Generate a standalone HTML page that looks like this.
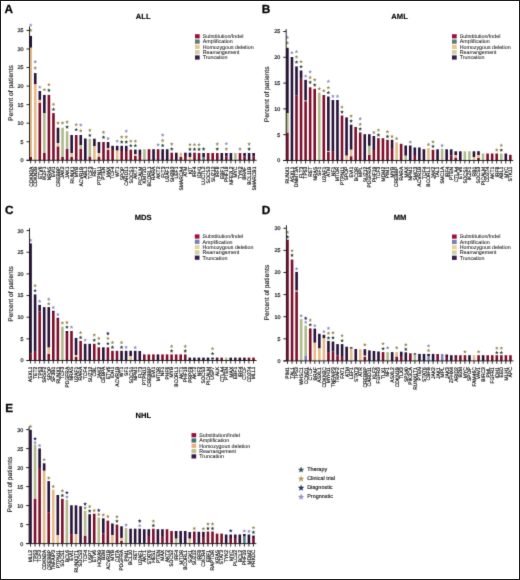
<!DOCTYPE html>
<html><head><meta charset="utf-8"><title>Figure</title>
<style>
html,body{margin:0;padding:0;background:#fff;}
body{width:520px;height:580px;overflow:hidden;}
svg{display:block;font-family:"Liberation Sans", sans-serif;text-rendering:geometricPrecision;}
#w{width:520px;height:580px;}
</style></head>
<body>
<div id="w">
<svg width="520" height="580" viewBox="0 0 520 580" shape-rendering="geometricPrecision">
<defs><filter id="bl" x="0" y="0" width="520" height="580" filterUnits="userSpaceOnUse" color-interpolation-filters="sRGB"><feConvolveMatrix order="3" kernelMatrix="0.01134 0.08382 0.01134 0.08382 0.61935 0.08382 0.01134 0.08382 0.01134" edgeMode="duplicate"/></filter></defs>
<g filter="url(#bl)">
<rect x="0" y="0" width="520" height="580" fill="#fff"/>
<text x="4.5" y="12.6" font-size="11.8" font-weight="bold" stroke="#000" stroke-width="0.25">A</text>
<text x="143.2" y="19.0" font-size="7.6" font-weight="bold" text-anchor="middle" stroke="#000" stroke-width="0.12">ALL</text>
<text transform="translate(12.50 93.00) rotate(-90)" font-size="6.7" text-anchor="middle" fill="#1a1a1a" stroke="#1a1a1a" stroke-width="0.15">Percent of patients</text>
<rect x="29.40" y="157.00" width="2.60" height="3.30" fill="#7c0e2b"/>
<rect x="29.40" y="47.60" width="2.60" height="109.40" fill="#e4ba88"/>
<rect x="29.40" y="35.90" width="2.60" height="11.70" fill="#271238"/>
<polygon points="30.70,28.25 31.22,29.59 32.65,29.67 31.54,30.57 31.90,31.96 30.70,31.18 29.50,31.96 29.86,30.57 28.75,29.67 30.18,29.59" fill="#a08c55"/>
<polygon points="30.70,23.05 31.22,24.39 32.65,24.47 31.54,25.37 31.90,26.76 30.70,25.98 29.50,26.76 29.86,25.37 28.75,24.47 30.18,24.39" fill="#8f8fc2"/>
<line x1="30.70" y1="160.30" x2="30.70" y2="163.30" stroke="#111" stroke-width="0.85"/>
<text transform="translate(32.55 166.60) rotate(-90) scale(0.955 1)" font-size="5.20" text-anchor="end" fill="#0a0a0a" stroke="#0a0a0a" stroke-width="0.17">CDKN2A</text>
<rect x="33.95" y="84.10" width="2.60" height="76.20" fill="#e4ba88"/>
<rect x="33.95" y="73.10" width="2.60" height="11.00" fill="#271238"/>
<polygon points="35.25,65.95 35.77,67.29 37.20,67.37 36.09,68.27 36.45,69.66 35.25,68.88 34.05,69.66 34.41,68.27 33.30,67.37 34.73,67.29" fill="#a08c55"/>
<polygon points="35.25,59.75 35.77,61.09 37.20,61.17 36.09,62.07 36.45,63.46 35.25,62.68 34.05,63.46 34.41,62.07 33.30,61.17 34.73,61.09" fill="#8f8fc2"/>
<line x1="35.25" y1="160.30" x2="35.25" y2="163.30" stroke="#111" stroke-width="0.85"/>
<text transform="translate(37.10 166.60) rotate(-90) scale(0.955 1)" font-size="5.20" text-anchor="end" fill="#0a0a0a" stroke="#0a0a0a" stroke-width="0.17">CDKN2B</text>
<rect x="38.50" y="102.70" width="2.60" height="57.60" fill="#7c0e2b"/>
<rect x="38.50" y="99.90" width="2.60" height="2.80" fill="#e4ba88"/>
<rect x="38.50" y="91.00" width="2.60" height="8.90" fill="#271238"/>
<polygon points="39.80,85.15 40.32,86.49 41.75,86.57 40.64,87.47 41.00,88.86 39.80,88.08 38.60,88.86 38.96,87.47 37.85,86.57 39.28,86.49" fill="#8f8fc2"/>
<line x1="39.80" y1="160.30" x2="39.80" y2="163.30" stroke="#111" stroke-width="0.85"/>
<text transform="translate(41.65 166.60) rotate(-90) scale(0.955 1)" font-size="5.20" text-anchor="end" fill="#0a0a0a" stroke="#0a0a0a" stroke-width="0.17">ETV6</text>
<rect x="43.05" y="153.00" width="2.60" height="7.30" fill="#7c0e2b"/>
<rect x="43.05" y="113.00" width="2.60" height="40.00" fill="#b0b98a"/>
<rect x="43.05" y="94.90" width="2.60" height="18.10" fill="#271238"/>
<polygon points="44.35,87.65 44.87,88.99 46.30,89.07 45.19,89.97 45.55,91.36 44.35,90.58 43.15,91.36 43.51,89.97 42.40,89.07 43.83,88.99" fill="#a08c55"/>
<line x1="44.35" y1="160.30" x2="44.35" y2="163.30" stroke="#111" stroke-width="0.85"/>
<text transform="translate(46.20 166.60) rotate(-90) scale(0.955 1)" font-size="5.20" text-anchor="end" fill="#0a0a0a" stroke="#0a0a0a" stroke-width="0.17">IKZF1</text>
<rect x="47.60" y="94.90" width="2.60" height="65.40" fill="#7c0e2b"/>
<polygon points="48.90,88.25 49.42,89.59 50.85,89.67 49.74,90.57 50.10,91.96 48.90,91.18 47.70,91.96 48.06,90.57 46.95,89.67 48.38,89.59" fill="#28483c"/>
<polygon points="48.90,82.55 49.42,83.89 50.85,83.97 49.74,84.87 50.10,86.26 48.90,85.48 47.70,86.26 48.06,84.87 46.95,83.97 48.38,83.89" fill="#a08c55"/>
<line x1="48.90" y1="160.30" x2="48.90" y2="163.30" stroke="#111" stroke-width="0.85"/>
<text transform="translate(50.75 166.60) rotate(-90) scale(0.955 1)" font-size="5.20" text-anchor="end" fill="#0a0a0a" stroke="#0a0a0a" stroke-width="0.17">NRAS</text>
<rect x="52.15" y="113.10" width="2.60" height="47.20" fill="#7c0e2b"/>
<polygon points="53.45,107.35 53.97,108.69 55.40,108.77 54.29,109.67 54.65,111.06 53.45,110.28 52.25,111.06 52.61,109.67 51.50,108.77 52.93,108.69" fill="#28483c"/>
<polygon points="53.45,102.35 53.97,103.69 55.40,103.77 54.29,104.67 54.65,106.06 53.45,105.28 52.25,106.06 52.61,104.67 51.50,103.77 52.93,103.69" fill="#a08c55"/>
<line x1="53.45" y1="160.30" x2="53.45" y2="163.30" stroke="#111" stroke-width="0.85"/>
<text transform="translate(55.30 166.60) rotate(-90) scale(0.955 1)" font-size="5.20" text-anchor="end" fill="#0a0a0a" stroke="#0a0a0a" stroke-width="0.17">EVI1</text>
<rect x="56.70" y="146.40" width="2.60" height="13.90" fill="#7c0e2b"/>
<rect x="56.70" y="143.00" width="2.60" height="3.40" fill="#e4ba88"/>
<rect x="56.70" y="127.70" width="2.60" height="15.30" fill="#271238"/>
<polygon points="58.00,120.95 58.52,122.29 59.95,122.37 58.84,123.27 59.20,124.66 58.00,123.88 56.80,124.66 57.16,123.27 56.05,122.37 57.48,122.29" fill="#a08c55"/>
<line x1="58.00" y1="160.30" x2="58.00" y2="163.30" stroke="#111" stroke-width="0.85"/>
<text transform="translate(59.85 166.60) rotate(-90) scale(0.955 1)" font-size="5.20" text-anchor="end" fill="#0a0a0a" stroke="#0a0a0a" stroke-width="0.17">CREBBP</text>
<rect x="61.25" y="157.00" width="2.60" height="3.30" fill="#7c0e2b"/>
<rect x="61.25" y="127.70" width="2.60" height="29.30" fill="#b0b98a"/>
<polygon points="62.55,120.95 63.07,122.29 64.50,122.37 63.39,123.27 63.75,124.66 62.55,123.88 61.35,124.66 61.71,123.27 60.60,122.37 62.03,122.29" fill="#a08c55"/>
<line x1="62.55" y1="160.30" x2="62.55" y2="163.30" stroke="#111" stroke-width="0.85"/>
<text transform="translate(64.40 166.60) rotate(-90) scale(0.955 1)" font-size="5.20" text-anchor="end" fill="#0a0a0a" stroke="#0a0a0a" stroke-width="0.17">JAK2</text>
<rect x="65.80" y="149.00" width="2.60" height="11.30" fill="#7c0e2b"/>
<rect x="65.80" y="131.20" width="2.60" height="17.80" fill="#b0b98a"/>
<polygon points="67.10,124.95 67.62,126.29 69.05,126.37 67.94,127.27 68.30,128.66 67.10,127.88 65.90,128.66 66.26,127.27 65.15,126.37 66.58,126.29" fill="#28483c"/>
<polygon points="67.10,119.95 67.62,121.29 69.05,121.37 67.94,122.27 68.30,123.66 67.10,122.88 65.90,123.66 66.26,122.27 65.15,121.37 66.58,121.29" fill="#a08c55"/>
<line x1="67.10" y1="160.30" x2="67.10" y2="163.30" stroke="#111" stroke-width="0.85"/>
<text transform="translate(68.95 166.60) rotate(-90) scale(0.955 1)" font-size="5.20" text-anchor="end" fill="#0a0a0a" stroke="#0a0a0a" stroke-width="0.17">JAK1</text>
<rect x="70.35" y="157.00" width="2.60" height="3.30" fill="#7c0e2b"/>
<rect x="70.35" y="153.00" width="2.60" height="4.00" fill="#e4ba88"/>
<rect x="70.35" y="135.00" width="2.60" height="18.00" fill="#271238"/>
<line x1="71.65" y1="160.30" x2="71.65" y2="163.30" stroke="#111" stroke-width="0.85"/>
<text transform="translate(73.50 166.60) rotate(-90) scale(0.955 1)" font-size="5.20" text-anchor="end" fill="#0a0a0a" stroke="#0a0a0a" stroke-width="0.17">RUNX1</text>
<rect x="74.90" y="135.00" width="2.60" height="25.30" fill="#7c0e2b"/>
<polygon points="76.20,127.55 76.72,128.89 78.15,128.97 77.04,129.87 77.40,131.26 76.20,130.48 75.00,131.26 75.36,129.87 74.25,128.97 75.68,128.89" fill="#28483c"/>
<polygon points="76.20,122.55 76.72,123.89 78.15,123.97 77.04,124.87 77.40,126.26 76.20,125.48 75.00,126.26 75.36,124.87 74.25,123.97 75.68,123.89" fill="#a08c55"/>
<line x1="76.20" y1="160.30" x2="76.20" y2="163.30" stroke="#111" stroke-width="0.85"/>
<text transform="translate(78.05 166.60) rotate(-90) scale(0.955 1)" font-size="5.20" text-anchor="end" fill="#0a0a0a" stroke="#0a0a0a" stroke-width="0.17">MYB</text>
<rect x="79.45" y="149.00" width="2.60" height="11.30" fill="#7c0e2b"/>
<rect x="79.45" y="145.00" width="2.60" height="4.00" fill="#b0b98a"/>
<rect x="79.45" y="135.00" width="2.60" height="10.00" fill="#271238"/>
<polygon points="80.75,128.75 81.27,130.09 82.70,130.17 81.59,131.07 81.95,132.46 80.75,131.68 79.55,132.46 79.91,131.07 78.80,130.17 80.23,130.09" fill="#a08c55"/>
<polygon points="80.75,122.95 81.27,124.29 82.70,124.37 81.59,125.27 81.95,126.66 80.75,125.88 79.55,126.66 79.91,125.27 78.80,124.37 80.23,124.29" fill="#8f8fc2"/>
<line x1="80.75" y1="160.30" x2="80.75" y2="163.30" stroke="#111" stroke-width="0.85"/>
<text transform="translate(82.60 166.60) rotate(-90) scale(0.955 1)" font-size="5.20" text-anchor="end" fill="#0a0a0a" stroke="#0a0a0a" stroke-width="0.17">ACVR1B</text>
<rect x="84.00" y="138.50" width="2.60" height="21.80" fill="#271238"/>
<line x1="85.30" y1="160.30" x2="85.30" y2="163.30" stroke="#111" stroke-width="0.85"/>
<text transform="translate(87.15 166.60) rotate(-90) scale(0.955 1)" font-size="5.20" text-anchor="end" fill="#0a0a0a" stroke="#0a0a0a" stroke-width="0.17">ABL1</text>
<rect x="88.55" y="156.50" width="2.60" height="3.80" fill="#7c0e2b"/>
<rect x="88.55" y="138.70" width="2.60" height="17.80" fill="#b0b98a"/>
<polygon points="89.85,133.35 90.37,134.69 91.80,134.77 90.69,135.67 91.05,137.06 89.85,136.28 88.65,137.06 89.01,135.67 87.90,134.77 89.33,134.69" fill="#28483c"/>
<polygon points="89.85,128.25 90.37,129.59 91.80,129.67 90.69,130.57 91.05,131.96 89.85,131.18 88.65,131.96 89.01,130.57 87.90,129.67 89.33,129.59" fill="#a08c55"/>
<line x1="89.85" y1="160.30" x2="89.85" y2="163.30" stroke="#111" stroke-width="0.85"/>
<text transform="translate(91.70 166.60) rotate(-90) scale(0.955 1)" font-size="5.20" text-anchor="end" fill="#0a0a0a" stroke="#0a0a0a" stroke-width="0.17">TCF3</text>
<rect x="93.10" y="146.00" width="2.60" height="14.30" fill="#e4ba88"/>
<rect x="93.10" y="138.70" width="2.60" height="7.30" fill="#271238"/>
<line x1="94.40" y1="160.30" x2="94.40" y2="163.30" stroke="#111" stroke-width="0.85"/>
<text transform="translate(96.25 166.60) rotate(-90) scale(0.955 1)" font-size="5.20" text-anchor="end" fill="#0a0a0a" stroke="#0a0a0a" stroke-width="0.17">RET</text>
<rect x="97.65" y="156.60" width="2.60" height="3.70" fill="#7c0e2b"/>
<rect x="97.65" y="153.00" width="2.60" height="3.60" fill="#e4ba88"/>
<rect x="97.65" y="142.00" width="2.60" height="11.00" fill="#271238"/>
<line x1="98.95" y1="160.30" x2="98.95" y2="163.30" stroke="#111" stroke-width="0.85"/>
<text transform="translate(100.80 166.60) rotate(-90) scale(0.955 1)" font-size="5.20" text-anchor="end" fill="#0a0a0a" stroke="#0a0a0a" stroke-width="0.17">PTPN11</text>
<rect x="102.20" y="142.00" width="2.60" height="18.30" fill="#7c0e2b"/>
<polygon points="103.50,135.25 104.02,136.59 105.45,136.67 104.34,137.57 104.70,138.96 103.50,138.18 102.30,138.96 102.66,137.57 101.55,136.67 102.98,136.59" fill="#28483c"/>
<polygon points="103.50,130.25 104.02,131.59 105.45,131.67 104.34,132.57 104.70,133.96 103.50,133.18 102.30,133.96 102.66,132.57 101.55,131.67 102.98,131.59" fill="#a08c55"/>
<line x1="103.50" y1="160.30" x2="103.50" y2="163.30" stroke="#111" stroke-width="0.85"/>
<text transform="translate(105.35 166.60) rotate(-90) scale(0.955 1)" font-size="5.20" text-anchor="end" fill="#0a0a0a" stroke="#0a0a0a" stroke-width="0.17">PTEN</text>
<rect x="106.75" y="150.00" width="2.60" height="10.30" fill="#7c0e2b"/>
<rect x="106.75" y="148.00" width="2.60" height="2.00" fill="#e4ba88"/>
<rect x="106.75" y="142.00" width="2.60" height="6.00" fill="#271238"/>
<polygon points="108.05,136.45 108.57,137.79 110.00,137.87 108.89,138.77 109.25,140.16 108.05,139.38 106.85,140.16 107.21,138.77 106.10,137.87 107.53,137.79" fill="#8f8fc2"/>
<line x1="108.05" y1="160.30" x2="108.05" y2="163.30" stroke="#111" stroke-width="0.85"/>
<text transform="translate(109.90 166.60) rotate(-90) scale(0.955 1)" font-size="5.20" text-anchor="end" fill="#0a0a0a" stroke="#0a0a0a" stroke-width="0.17">MAX</text>
<rect x="111.30" y="150.00" width="2.60" height="10.30" fill="#7c0e2b"/>
<rect x="111.30" y="145.80" width="2.60" height="4.20" fill="#271238"/>
<line x1="112.60" y1="160.30" x2="112.60" y2="163.30" stroke="#111" stroke-width="0.85"/>
<text transform="translate(114.45 166.60) rotate(-90) scale(0.955 1)" font-size="5.20" text-anchor="end" fill="#0a0a0a" stroke="#0a0a0a" stroke-width="0.17">TCF4</text>
<rect x="115.85" y="150.40" width="2.60" height="9.90" fill="#e4ba88"/>
<rect x="115.85" y="145.80" width="2.60" height="4.60" fill="#271238"/>
<polygon points="117.15,139.15 117.67,140.49 119.10,140.57 117.99,141.47 118.35,142.86 117.15,142.08 115.95,142.86 116.31,141.47 115.20,140.57 116.63,140.49" fill="#8f8fc2"/>
<line x1="117.15" y1="160.30" x2="117.15" y2="163.30" stroke="#111" stroke-width="0.85"/>
<text transform="translate(119.00 166.60) rotate(-90) scale(0.955 1)" font-size="5.20" text-anchor="end" fill="#0a0a0a" stroke="#0a0a0a" stroke-width="0.17">WT1</text>
<rect x="120.40" y="151.00" width="2.60" height="9.30" fill="#7c0e2b"/>
<rect x="120.40" y="145.80" width="2.60" height="5.20" fill="#271238"/>
<polygon points="121.70,139.95 122.22,141.29 123.65,141.37 122.54,142.27 122.90,143.66 121.70,142.88 120.50,143.66 120.86,142.27 119.75,141.37 121.18,141.29" fill="#28483c"/>
<polygon points="121.70,134.95 122.22,136.29 123.65,136.37 122.54,137.27 122.90,138.66 121.70,137.88 120.50,138.66 120.86,137.27 119.75,136.37 121.18,136.29" fill="#a08c55"/>
<line x1="121.70" y1="160.30" x2="121.70" y2="163.30" stroke="#111" stroke-width="0.85"/>
<text transform="translate(123.55 166.60) rotate(-90) scale(0.955 1)" font-size="5.20" text-anchor="end" fill="#0a0a0a" stroke="#0a0a0a" stroke-width="0.17">SPOP</text>
<rect x="124.95" y="151.00" width="2.60" height="9.30" fill="#7c0e2b"/>
<rect x="124.95" y="145.80" width="2.60" height="5.20" fill="#271238"/>
<polygon points="126.25,139.95 126.77,141.29 128.20,141.37 127.09,142.27 127.45,143.66 126.25,142.88 125.05,143.66 125.41,142.27 124.30,141.37 125.73,141.29" fill="#28483c"/>
<polygon points="126.25,134.95 126.77,136.29 128.20,136.37 127.09,137.27 127.45,138.66 126.25,137.88 125.05,138.66 125.41,137.27 124.30,136.37 125.73,136.29" fill="#a08c55"/>
<polygon points="126.25,129.15 126.77,130.49 128.20,130.57 127.09,131.47 127.45,132.86 126.25,132.08 125.05,132.86 125.41,131.47 124.30,130.57 125.73,130.49" fill="#8f8fc2"/>
<line x1="126.25" y1="160.30" x2="126.25" y2="163.30" stroke="#111" stroke-width="0.85"/>
<text transform="translate(128.10 166.60) rotate(-90) scale(0.955 1)" font-size="5.20" text-anchor="end" fill="#0a0a0a" stroke="#0a0a0a" stroke-width="0.17">CARD11</text>
<rect x="129.50" y="149.60" width="2.60" height="10.70" fill="#7c0e2b"/>
<polygon points="130.80,143.55 131.32,144.89 132.75,144.97 131.64,145.87 132.00,147.26 130.80,146.48 129.60,147.26 129.96,145.87 128.85,144.97 130.28,144.89" fill="#28483c"/>
<polygon points="130.80,139.15 131.32,140.49 132.75,140.57 131.64,141.47 132.00,142.86 130.80,142.08 129.60,142.86 129.96,141.47 128.85,140.57 130.28,140.49" fill="#a08c55"/>
<line x1="130.80" y1="160.30" x2="130.80" y2="163.30" stroke="#111" stroke-width="0.85"/>
<text transform="translate(132.65 166.60) rotate(-90) scale(0.955 1)" font-size="5.20" text-anchor="end" fill="#0a0a0a" stroke="#0a0a0a" stroke-width="0.17">SOCS1</text>
<rect x="134.05" y="156.00" width="2.60" height="4.30" fill="#7c0e2b"/>
<rect x="134.05" y="154.00" width="2.60" height="2.00" fill="#e4ba88"/>
<rect x="134.05" y="149.60" width="2.60" height="4.40" fill="#271238"/>
<polygon points="135.35,143.55 135.87,144.89 137.30,144.97 136.19,145.87 136.55,147.26 135.35,146.48 134.15,147.26 134.51,145.87 133.40,144.97 134.83,144.89" fill="#28483c"/>
<polygon points="135.35,139.15 135.87,140.49 137.30,140.57 136.19,141.47 136.55,142.86 135.35,142.08 134.15,142.86 134.51,141.47 133.40,140.57 134.83,140.49" fill="#a08c55"/>
<line x1="135.35" y1="160.30" x2="135.35" y2="163.30" stroke="#111" stroke-width="0.85"/>
<text transform="translate(137.20 166.60) rotate(-90) scale(0.955 1)" font-size="5.20" text-anchor="end" fill="#0a0a0a" stroke="#0a0a0a" stroke-width="0.17">AKT1</text>
<rect x="138.60" y="155.00" width="2.60" height="5.30" fill="#7c0e2b"/>
<rect x="138.60" y="149.60" width="2.60" height="5.40" fill="#271238"/>
<line x1="139.90" y1="160.30" x2="139.90" y2="163.30" stroke="#111" stroke-width="0.85"/>
<text transform="translate(141.75 166.60) rotate(-90) scale(0.955 1)" font-size="5.20" text-anchor="end" fill="#0a0a0a" stroke="#0a0a0a" stroke-width="0.17">PICALM</text>
<rect x="143.15" y="149.20" width="2.60" height="11.10" fill="#b0b98a"/>
<line x1="144.45" y1="160.30" x2="144.45" y2="163.30" stroke="#111" stroke-width="0.85"/>
<text transform="translate(146.30 166.60) rotate(-90) scale(0.955 1)" font-size="5.20" text-anchor="end" fill="#0a0a0a" stroke="#0a0a0a" stroke-width="0.17">KMT2D</text>
<rect x="147.70" y="149.20" width="2.60" height="11.10" fill="#7c0e2b"/>
<line x1="149.00" y1="160.30" x2="149.00" y2="163.30" stroke="#111" stroke-width="0.85"/>
<text transform="translate(150.85 166.60) rotate(-90) scale(0.955 1)" font-size="5.20" text-anchor="end" fill="#0a0a0a" stroke="#0a0a0a" stroke-width="0.17">BCORL1</text>
<rect x="152.25" y="149.20" width="2.60" height="11.10" fill="#271238"/>
<line x1="153.55" y1="160.30" x2="153.55" y2="163.30" stroke="#111" stroke-width="0.85"/>
<text transform="translate(155.40 166.60) rotate(-90) scale(0.955 1)" font-size="5.20" text-anchor="end" fill="#0a0a0a" stroke="#0a0a0a" stroke-width="0.17">RARA</text>
<rect x="156.80" y="149.20" width="2.60" height="11.10" fill="#7c0e2b"/>
<polygon points="158.10,142.75 158.62,144.09 160.05,144.17 158.94,145.07 159.30,146.46 158.10,145.68 156.90,146.46 157.26,145.07 156.15,144.17 157.58,144.09" fill="#8f8fc2"/>
<line x1="158.10" y1="160.30" x2="158.10" y2="163.30" stroke="#111" stroke-width="0.85"/>
<text transform="translate(159.95 166.60) rotate(-90) scale(0.955 1)" font-size="5.20" text-anchor="end" fill="#0a0a0a" stroke="#0a0a0a" stroke-width="0.17">AKT2</text>
<rect x="161.35" y="149.20" width="2.60" height="11.10" fill="#271238"/>
<polygon points="162.65,143.45 163.17,144.79 164.60,144.87 163.49,145.77 163.85,147.16 162.65,146.38 161.45,147.16 161.81,145.77 160.70,144.87 162.13,144.79" fill="#28483c"/>
<polygon points="162.65,138.45 163.17,139.79 164.60,139.87 163.49,140.77 163.85,142.16 162.65,141.38 161.45,142.16 161.81,140.77 160.70,139.87 162.13,139.79" fill="#a08c55"/>
<polygon points="162.65,132.95 163.17,134.29 164.60,134.37 163.49,135.27 163.85,136.66 162.65,135.88 161.45,136.66 161.81,135.27 160.70,134.37 162.13,134.29" fill="#8f8fc2"/>
<line x1="162.65" y1="160.30" x2="162.65" y2="163.30" stroke="#111" stroke-width="0.85"/>
<text transform="translate(164.50 166.60) rotate(-90) scale(0.955 1)" font-size="5.20" text-anchor="end" fill="#0a0a0a" stroke="#0a0a0a" stroke-width="0.17">FLT3</text>
<rect x="165.90" y="149.20" width="2.60" height="11.10" fill="#271238"/>
<line x1="167.20" y1="160.30" x2="167.20" y2="163.30" stroke="#111" stroke-width="0.85"/>
<text transform="translate(169.05 166.60) rotate(-90) scale(0.955 1)" font-size="5.20" text-anchor="end" fill="#0a0a0a" stroke="#0a0a0a" stroke-width="0.17">U2AF1</text>
<rect x="170.45" y="152.70" width="2.60" height="7.60" fill="#7c0e2b"/>
<polygon points="171.75,146.95 172.27,148.29 173.70,148.37 172.59,149.27 172.95,150.66 171.75,149.88 170.55,150.66 170.91,149.27 169.80,148.37 171.23,148.29" fill="#28483c"/>
<polygon points="171.75,141.95 172.27,143.29 173.70,143.37 172.59,144.27 172.95,145.66 171.75,144.88 170.55,145.66 170.91,144.27 169.80,143.37 171.23,143.29" fill="#a08c55"/>
<line x1="171.75" y1="160.30" x2="171.75" y2="163.30" stroke="#111" stroke-width="0.85"/>
<text transform="translate(173.60 166.60) rotate(-90) scale(0.955 1)" font-size="5.20" text-anchor="end" fill="#0a0a0a" stroke="#0a0a0a" stroke-width="0.17">SH2B3</text>
<rect x="175.00" y="152.70" width="2.60" height="7.60" fill="#271238"/>
<line x1="176.30" y1="160.30" x2="176.30" y2="163.30" stroke="#111" stroke-width="0.85"/>
<text transform="translate(178.15 166.60) rotate(-90) scale(0.955 1)" font-size="5.20" text-anchor="end" fill="#0a0a0a" stroke="#0a0a0a" stroke-width="0.17">LEF1</text>
<rect x="179.55" y="157.00" width="2.60" height="3.30" fill="#7c0e2b"/>
<rect x="179.55" y="152.70" width="2.60" height="4.30" fill="#e4ba88"/>
<line x1="180.85" y1="160.30" x2="180.85" y2="163.30" stroke="#111" stroke-width="0.85"/>
<text transform="translate(182.70 166.60) rotate(-90) scale(0.955 1)" font-size="5.20" text-anchor="end" fill="#0a0a0a" stroke="#0a0a0a" stroke-width="0.17">SMARCA4</text>
<rect x="184.10" y="156.00" width="2.60" height="4.30" fill="#7c0e2b"/>
<rect x="184.10" y="152.70" width="2.60" height="3.30" fill="#271238"/>
<line x1="185.40" y1="160.30" x2="185.40" y2="163.30" stroke="#111" stroke-width="0.85"/>
<text transform="translate(187.25 166.60) rotate(-90) scale(0.955 1)" font-size="5.20" text-anchor="end" fill="#0a0a0a" stroke="#0a0a0a" stroke-width="0.17">ATM</text>
<rect x="188.65" y="157.00" width="2.60" height="3.30" fill="#e4ba88"/>
<rect x="188.65" y="152.70" width="2.60" height="4.30" fill="#271238"/>
<polygon points="189.95,147.25 190.47,148.59 191.90,148.67 190.79,149.57 191.15,150.96 189.95,150.18 188.75,150.96 189.11,149.57 188.00,148.67 189.43,148.59" fill="#28483c"/>
<polygon points="189.95,142.55 190.47,143.89 191.90,143.97 190.79,144.87 191.15,146.26 189.95,145.48 188.75,146.26 189.11,144.87 188.00,143.97 189.43,143.89" fill="#a08c55"/>
<line x1="189.95" y1="160.30" x2="189.95" y2="163.30" stroke="#111" stroke-width="0.85"/>
<text transform="translate(191.80 166.60) rotate(-90) scale(0.955 1)" font-size="5.20" text-anchor="end" fill="#0a0a0a" stroke="#0a0a0a" stroke-width="0.17">KIT</text>
<rect x="193.20" y="152.70" width="2.60" height="7.60" fill="#7c0e2b"/>
<polygon points="194.50,147.25 195.02,148.59 196.45,148.67 195.34,149.57 195.70,150.96 194.50,150.18 193.30,150.96 193.66,149.57 192.55,148.67 193.98,148.59" fill="#28483c"/>
<polygon points="194.50,142.55 195.02,143.89 196.45,143.97 195.34,144.87 195.70,146.26 194.50,145.48 193.30,146.26 193.66,144.87 192.55,143.97 193.98,143.89" fill="#a08c55"/>
<line x1="194.50" y1="160.30" x2="194.50" y2="163.30" stroke="#111" stroke-width="0.85"/>
<text transform="translate(196.35 166.60) rotate(-90) scale(0.955 1)" font-size="5.20" text-anchor="end" fill="#0a0a0a" stroke="#0a0a0a" stroke-width="0.17">IRF4</text>
<rect x="197.75" y="153.00" width="2.60" height="7.30" fill="#7c0e2b"/>
<polygon points="199.05,147.25 199.57,148.59 201.00,148.67 199.89,149.57 200.25,150.96 199.05,150.18 197.85,150.96 198.21,149.57 197.10,148.67 198.53,148.59" fill="#28483c"/>
<polygon points="199.05,142.55 199.57,143.89 201.00,143.97 199.89,144.87 200.25,146.26 199.05,145.48 197.85,146.26 198.21,144.87 197.10,143.97 198.53,143.89" fill="#a08c55"/>
<line x1="199.05" y1="160.30" x2="199.05" y2="163.30" stroke="#111" stroke-width="0.85"/>
<text transform="translate(200.90 166.60) rotate(-90) scale(0.955 1)" font-size="5.20" text-anchor="end" fill="#0a0a0a" stroke="#0a0a0a" stroke-width="0.17">IDH1</text>
<rect x="202.30" y="157.00" width="2.60" height="3.30" fill="#4e807e"/>
<rect x="202.30" y="153.00" width="2.60" height="4.00" fill="#271238"/>
<polygon points="203.60,146.95 204.12,148.29 205.55,148.37 204.44,149.27 204.80,150.66 203.60,149.88 202.40,150.66 202.76,149.27 201.65,148.37 203.08,148.29" fill="#28483c"/>
<line x1="203.60" y1="160.30" x2="203.60" y2="163.30" stroke="#111" stroke-width="0.85"/>
<text transform="translate(205.45 166.60) rotate(-90) scale(0.955 1)" font-size="5.20" text-anchor="end" fill="#0a0a0a" stroke="#0a0a0a" stroke-width="0.17">LUC7L2</text>
<rect x="206.85" y="153.00" width="2.60" height="7.30" fill="#7c0e2b"/>
<line x1="208.15" y1="160.30" x2="208.15" y2="163.30" stroke="#111" stroke-width="0.85"/>
<text transform="translate(210.00 166.60) rotate(-90) scale(0.955 1)" font-size="5.20" text-anchor="end" fill="#0a0a0a" stroke="#0a0a0a" stroke-width="0.17">SOCS3</text>
<rect x="211.40" y="153.00" width="2.60" height="7.30" fill="#7c0e2b"/>
<line x1="212.70" y1="160.30" x2="212.70" y2="163.30" stroke="#111" stroke-width="0.85"/>
<text transform="translate(214.55 166.60) rotate(-90) scale(0.955 1)" font-size="5.20" text-anchor="end" fill="#0a0a0a" stroke="#0a0a0a" stroke-width="0.17">SUZ12</text>
<rect x="215.95" y="153.00" width="2.60" height="7.30" fill="#7c0e2b"/>
<polygon points="217.25,146.95 217.77,148.29 219.20,148.37 218.09,149.27 218.45,150.66 217.25,149.88 216.05,150.66 216.41,149.27 215.30,148.37 216.73,148.29" fill="#28483c"/>
<polygon points="217.25,141.95 217.77,143.29 219.20,143.37 218.09,144.27 218.45,145.66 217.25,144.88 216.05,145.66 216.41,144.27 215.30,143.37 216.73,143.29" fill="#a08c55"/>
<line x1="217.25" y1="160.30" x2="217.25" y2="163.30" stroke="#111" stroke-width="0.85"/>
<text transform="translate(219.10 166.60) rotate(-90) scale(0.955 1)" font-size="5.20" text-anchor="end" fill="#0a0a0a" stroke="#0a0a0a" stroke-width="0.17">IRF8</text>
<rect x="220.50" y="153.00" width="2.60" height="7.30" fill="#271238"/>
<line x1="221.80" y1="160.30" x2="221.80" y2="163.30" stroke="#111" stroke-width="0.85"/>
<text transform="translate(223.65 166.60) rotate(-90) scale(0.955 1)" font-size="5.20" text-anchor="end" fill="#0a0a0a" stroke="#0a0a0a" stroke-width="0.17">EBF1</text>
<rect x="225.05" y="156.50" width="2.60" height="3.80" fill="#7c0e2b"/>
<rect x="225.05" y="153.00" width="2.60" height="3.50" fill="#271238"/>
<polygon points="226.35,146.95 226.87,148.29 228.30,148.37 227.19,149.27 227.55,150.66 226.35,149.88 225.15,150.66 225.51,149.27 224.40,148.37 225.83,148.29" fill="#a08c55"/>
<polygon points="226.35,141.55 226.87,142.89 228.30,142.97 227.19,143.87 227.55,145.26 226.35,144.48 225.15,145.26 225.51,143.87 224.40,142.97 225.83,142.89" fill="#8f8fc2"/>
<line x1="226.35" y1="160.30" x2="226.35" y2="163.30" stroke="#111" stroke-width="0.85"/>
<text transform="translate(228.20 166.60) rotate(-90) scale(0.955 1)" font-size="5.20" text-anchor="end" fill="#0a0a0a" stroke="#0a0a0a" stroke-width="0.17">PHF19</text>
<rect x="229.60" y="153.00" width="2.60" height="7.30" fill="#271238"/>
<line x1="230.90" y1="160.30" x2="230.90" y2="163.30" stroke="#111" stroke-width="0.85"/>
<text transform="translate(232.75 166.60) rotate(-90) scale(0.955 1)" font-size="5.20" text-anchor="end" fill="#0a0a0a" stroke="#0a0a0a" stroke-width="0.17">NFE2L2</text>
<rect x="234.15" y="153.00" width="2.60" height="7.30" fill="#b0b98a"/>
<line x1="235.45" y1="160.30" x2="235.45" y2="163.30" stroke="#111" stroke-width="0.85"/>
<text transform="translate(237.30 166.60) rotate(-90) scale(0.955 1)" font-size="5.20" text-anchor="end" fill="#0a0a0a" stroke="#0a0a0a" stroke-width="0.17">MYC</text>
<rect x="238.70" y="153.00" width="2.60" height="7.30" fill="#7c0e2b"/>
<polygon points="240.00,146.95 240.52,148.29 241.95,148.37 240.84,149.27 241.20,150.66 240.00,149.88 238.80,150.66 239.16,149.27 238.05,148.37 239.48,148.29" fill="#a08c55"/>
<line x1="240.00" y1="160.30" x2="240.00" y2="163.30" stroke="#111" stroke-width="0.85"/>
<text transform="translate(241.85 166.60) rotate(-90) scale(0.955 1)" font-size="5.20" text-anchor="end" fill="#0a0a0a" stroke="#0a0a0a" stroke-width="0.17">TYK2</text>
<rect x="243.25" y="156.50" width="2.60" height="3.80" fill="#7c0e2b"/>
<rect x="243.25" y="153.00" width="2.60" height="3.50" fill="#271238"/>
<line x1="244.55" y1="160.30" x2="244.55" y2="163.30" stroke="#111" stroke-width="0.85"/>
<text transform="translate(246.40 166.60) rotate(-90) scale(0.955 1)" font-size="5.20" text-anchor="end" fill="#0a0a0a" stroke="#0a0a0a" stroke-width="0.17">BRAF</text>
<rect x="247.80" y="153.00" width="2.60" height="7.30" fill="#271238"/>
<polygon points="249.10,146.95 249.62,148.29 251.05,148.37 249.94,149.27 250.30,150.66 249.10,149.88 247.90,150.66 248.26,149.27 247.15,148.37 248.58,148.29" fill="#28483c"/>
<polygon points="249.10,141.95 249.62,143.29 251.05,143.37 249.94,144.27 250.30,145.66 249.10,144.88 247.90,145.66 248.26,144.27 247.15,143.37 248.58,143.29" fill="#a08c55"/>
<line x1="249.10" y1="160.30" x2="249.10" y2="163.30" stroke="#111" stroke-width="0.85"/>
<text transform="translate(250.95 166.60) rotate(-90) scale(0.955 1)" font-size="5.20" text-anchor="end" fill="#0a0a0a" stroke="#0a0a0a" stroke-width="0.17">BCL11B</text>
<rect x="252.35" y="156.50" width="2.60" height="3.80" fill="#7c0e2b"/>
<rect x="252.35" y="153.00" width="2.60" height="3.50" fill="#271238"/>
<line x1="253.65" y1="160.30" x2="253.65" y2="163.30" stroke="#111" stroke-width="0.85"/>
<text transform="translate(255.50 166.60) rotate(-90) scale(0.955 1)" font-size="5.20" text-anchor="end" fill="#0a0a0a" stroke="#0a0a0a" stroke-width="0.17">SMARCB1</text>
<line x1="29.50" y1="26.50" x2="29.50" y2="160.30" stroke="#111" stroke-width="0.9"/>
<line x1="26.50" y1="160.30" x2="29.50" y2="160.30" stroke="#111" stroke-width="0.9"/>
<text x="23.60" y="162.20" font-size="5.4" text-anchor="end" fill="#111" stroke="#111" stroke-width="0.2">0</text>
<line x1="26.50" y1="141.75" x2="29.50" y2="141.75" stroke="#111" stroke-width="0.9"/>
<text x="23.60" y="143.65" font-size="5.4" text-anchor="end" fill="#111" stroke="#111" stroke-width="0.2">5</text>
<line x1="26.50" y1="123.20" x2="29.50" y2="123.20" stroke="#111" stroke-width="0.9"/>
<text x="23.60" y="125.10" font-size="5.4" text-anchor="end" fill="#111" stroke="#111" stroke-width="0.2">10</text>
<line x1="26.50" y1="104.65" x2="29.50" y2="104.65" stroke="#111" stroke-width="0.9"/>
<text x="23.60" y="106.55" font-size="5.4" text-anchor="end" fill="#111" stroke="#111" stroke-width="0.2">15</text>
<line x1="26.50" y1="86.10" x2="29.50" y2="86.10" stroke="#111" stroke-width="0.9"/>
<text x="23.60" y="88.00" font-size="5.4" text-anchor="end" fill="#111" stroke="#111" stroke-width="0.2">20</text>
<line x1="26.50" y1="67.55" x2="29.50" y2="67.55" stroke="#111" stroke-width="0.9"/>
<text x="23.60" y="69.45" font-size="5.4" text-anchor="end" fill="#111" stroke="#111" stroke-width="0.2">25</text>
<line x1="26.50" y1="49.00" x2="29.50" y2="49.00" stroke="#111" stroke-width="0.9"/>
<text x="23.60" y="50.90" font-size="5.4" text-anchor="end" fill="#111" stroke="#111" stroke-width="0.2">30</text>
<line x1="26.50" y1="30.45" x2="29.50" y2="30.45" stroke="#111" stroke-width="0.9"/>
<text x="23.60" y="32.35" font-size="5.4" text-anchor="end" fill="#111" stroke="#111" stroke-width="0.2">35</text>
<line x1="26.50" y1="160.30" x2="256.70" y2="160.30" stroke="#111" stroke-width="0.9"/>
<rect x="195.00" y="34.20" width="4.7" height="4.2" fill="#a30d38"/>
<text x="202.70" y="38.10" font-size="5.3" fill="#161616" stroke="#161616" stroke-width="0.06">Substitution/Indel</text>
<rect x="195.00" y="39.50" width="4.7" height="4.2" fill="#557e78"/>
<text x="202.70" y="43.40" font-size="5.3" fill="#161616" stroke="#161616" stroke-width="0.06">Amplification</text>
<rect x="195.00" y="44.80" width="4.7" height="4.2" fill="#e8c592"/>
<text x="202.70" y="48.70" font-size="5.3" fill="#161616" stroke="#161616" stroke-width="0.06">Homozygous deletion</text>
<rect x="195.00" y="50.10" width="4.7" height="4.2" fill="#cfd0a2"/>
<text x="202.70" y="54.00" font-size="5.3" fill="#161616" stroke="#161616" stroke-width="0.06">Rearrangement</text>
<rect x="195.00" y="55.40" width="4.7" height="4.2" fill="#3a1a4c"/>
<text x="202.70" y="59.30" font-size="5.3" fill="#161616" stroke="#161616" stroke-width="0.06">Truncation</text>
<text x="261.7" y="12.6" font-size="11.8" font-weight="bold" stroke="#000" stroke-width="0.25">B</text>
<text x="399.6" y="19.0" font-size="7.6" font-weight="bold" text-anchor="middle" stroke="#000" stroke-width="0.12">AML</text>
<text transform="translate(269.20 94.35) rotate(-90)" font-size="6.7" text-anchor="middle" fill="#1a1a1a" stroke="#1a1a1a" stroke-width="0.15">Percent of patients</text>
<rect x="286.10" y="132.50" width="2.60" height="28.00" fill="#7c0e2b"/>
<rect x="286.10" y="113.00" width="2.60" height="19.50" fill="#b0b98a"/>
<rect x="286.10" y="47.80" width="2.60" height="65.20" fill="#271238"/>
<polygon points="287.40,40.95 287.92,42.29 289.35,42.37 288.24,43.27 288.60,44.66 287.40,43.88 286.20,44.66 286.56,43.27 285.45,42.37 286.88,42.29" fill="#a08c55"/>
<polygon points="287.40,35.35 287.92,36.69 289.35,36.77 288.24,37.67 288.60,39.06 287.40,38.28 286.20,39.06 286.56,37.67 285.45,36.77 286.88,36.69" fill="#8f8fc2"/>
<line x1="287.40" y1="160.50" x2="287.40" y2="163.50" stroke="#111" stroke-width="0.85"/>
<text transform="translate(289.25 166.80) rotate(-90) scale(0.955 1)" font-size="5.20" text-anchor="end" fill="#0a0a0a" stroke="#0a0a0a" stroke-width="0.17">RUNX1</text>
<rect x="290.65" y="57.00" width="2.60" height="103.50" fill="#271238"/>
<polygon points="291.95,50.55 292.47,51.89 293.90,51.97 292.79,52.87 293.15,54.26 291.95,53.48 290.75,54.26 291.11,52.87 290.00,51.97 291.43,51.89" fill="#8f8fc2"/>
<line x1="291.95" y1="160.50" x2="291.95" y2="163.50" stroke="#111" stroke-width="0.85"/>
<text transform="translate(293.80 166.80) rotate(-90) scale(0.955 1)" font-size="5.20" text-anchor="end" fill="#0a0a0a" stroke="#0a0a0a" stroke-width="0.17">ASXL1</text>
<rect x="295.20" y="95.60" width="2.60" height="64.90" fill="#7c0e2b"/>
<rect x="295.20" y="66.40" width="2.60" height="29.20" fill="#271238"/>
<polygon points="296.50,60.15 297.02,61.49 298.45,61.57 297.34,62.47 297.70,63.86 296.50,63.08 295.30,63.86 295.66,62.47 294.55,61.57 295.98,61.49" fill="#28483c"/>
<polygon points="296.50,54.95 297.02,56.29 298.45,56.37 297.34,57.27 297.70,58.66 296.50,57.88 295.30,58.66 295.66,57.27 294.55,56.37 295.98,56.29" fill="#a08c55"/>
<polygon points="296.50,49.55 297.02,50.89 298.45,50.97 297.34,51.87 297.70,53.26 296.50,52.48 295.30,53.26 295.66,51.87 294.55,50.97 295.98,50.89" fill="#8f8fc2"/>
<line x1="296.50" y1="160.50" x2="296.50" y2="163.50" stroke="#111" stroke-width="0.85"/>
<text transform="translate(298.35 166.80) rotate(-90) scale(0.955 1)" font-size="5.20" text-anchor="end" fill="#0a0a0a" stroke="#0a0a0a" stroke-width="0.17">DNMT3A</text>
<rect x="299.75" y="78.80" width="2.60" height="81.70" fill="#7c0e2b"/>
<rect x="299.75" y="70.50" width="2.60" height="8.30" fill="#271238"/>
<polygon points="301.05,64.65 301.57,65.99 303.00,66.07 301.89,66.97 302.25,68.36 301.05,67.58 299.85,68.36 300.21,66.97 299.10,66.07 300.53,65.99" fill="#28483c"/>
<polygon points="301.05,59.65 301.57,60.99 303.00,61.07 301.89,61.97 302.25,63.36 301.05,62.58 299.85,63.36 300.21,61.97 299.10,61.07 300.53,60.99" fill="#a08c55"/>
<line x1="301.05" y1="160.50" x2="301.05" y2="163.50" stroke="#111" stroke-width="0.85"/>
<text transform="translate(302.90 166.80) rotate(-90) scale(0.955 1)" font-size="5.20" text-anchor="end" fill="#0a0a0a" stroke="#0a0a0a" stroke-width="0.17">FLT3</text>
<rect x="304.30" y="101.20" width="2.60" height="59.30" fill="#7c0e2b"/>
<rect x="304.30" y="100.40" width="2.60" height="0.80" fill="#e4ba88"/>
<rect x="304.30" y="79.80" width="2.60" height="20.60" fill="#271238"/>
<polygon points="305.60,74.15 306.12,75.49 307.55,75.57 306.44,76.47 306.80,77.86 305.60,77.08 304.40,77.86 304.76,76.47 303.65,75.57 305.08,75.49" fill="#8f8fc2"/>
<line x1="305.60" y1="160.50" x2="305.60" y2="163.50" stroke="#111" stroke-width="0.85"/>
<text transform="translate(307.45 166.80) rotate(-90) scale(0.955 1)" font-size="5.20" text-anchor="end" fill="#0a0a0a" stroke="#0a0a0a" stroke-width="0.17">TP53</text>
<rect x="308.85" y="87.30" width="2.60" height="73.20" fill="#7c0e2b"/>
<polygon points="310.15,80.25 310.67,81.59 312.10,81.67 310.99,82.57 311.35,83.96 310.15,83.18 308.95,83.96 309.31,82.57 308.20,81.67 309.63,81.59" fill="#28483c"/>
<polygon points="310.15,75.45 310.67,76.79 312.10,76.87 310.99,77.77 311.35,79.16 310.15,78.38 308.95,79.16 309.31,77.77 308.20,76.87 309.63,76.79" fill="#a08c55"/>
<polygon points="310.15,69.85 310.67,71.19 312.10,71.27 310.99,72.17 311.35,73.56 310.15,72.78 308.95,73.56 309.31,72.17 308.20,71.27 309.63,71.19" fill="#8f8fc2"/>
<line x1="310.15" y1="160.50" x2="310.15" y2="163.50" stroke="#111" stroke-width="0.85"/>
<text transform="translate(312.00 166.80) rotate(-90) scale(0.955 1)" font-size="5.20" text-anchor="end" fill="#0a0a0a" stroke="#0a0a0a" stroke-width="0.17">RET</text>
<rect x="313.40" y="88.80" width="2.60" height="71.70" fill="#7c0e2b"/>
<polygon points="314.70,82.95 315.22,84.29 316.65,84.37 315.54,85.27 315.90,86.66 314.70,85.88 313.50,86.66 313.86,85.27 312.75,84.37 314.18,84.29" fill="#28483c"/>
<polygon points="314.70,77.75 315.22,79.09 316.65,79.17 315.54,80.07 315.90,81.46 314.70,80.68 313.50,81.46 313.86,80.07 312.75,79.17 314.18,79.09" fill="#a08c55"/>
<line x1="314.70" y1="160.50" x2="314.70" y2="163.50" stroke="#111" stroke-width="0.85"/>
<text transform="translate(316.55 166.80) rotate(-90) scale(0.955 1)" font-size="5.20" text-anchor="end" fill="#0a0a0a" stroke="#0a0a0a" stroke-width="0.17">NRAS</text>
<rect x="317.95" y="92.70" width="2.60" height="67.80" fill="#b0b98a"/>
<polygon points="319.25,86.75 319.77,88.09 321.20,88.17 320.09,89.07 320.45,90.46 319.25,89.68 318.05,90.46 318.41,89.07 317.30,88.17 318.73,88.09" fill="#a08c55"/>
<line x1="319.25" y1="160.50" x2="319.25" y2="163.50" stroke="#111" stroke-width="0.85"/>
<text transform="translate(321.10 166.80) rotate(-90) scale(0.955 1)" font-size="5.20" text-anchor="end" fill="#0a0a0a" stroke="#0a0a0a" stroke-width="0.17">SF1</text>
<rect x="322.50" y="95.00" width="2.60" height="65.50" fill="#7c0e2b"/>
<polygon points="323.80,88.75 324.32,90.09 325.75,90.17 324.64,91.07 325.00,92.46 323.80,91.68 322.60,92.46 322.96,91.07 321.85,90.17 323.28,90.09" fill="#a08c55"/>
<line x1="323.80" y1="160.50" x2="323.80" y2="163.50" stroke="#111" stroke-width="0.85"/>
<text transform="translate(325.65 166.80) rotate(-90) scale(0.955 1)" font-size="5.20" text-anchor="end" fill="#0a0a0a" stroke="#0a0a0a" stroke-width="0.17">U2AF1</text>
<rect x="327.05" y="152.00" width="2.60" height="8.50" fill="#7c0e2b"/>
<rect x="327.05" y="151.00" width="2.60" height="1.00" fill="#e4ba88"/>
<rect x="327.05" y="96.50" width="2.60" height="54.50" fill="#271238"/>
<polygon points="328.35,90.65 328.87,91.99 330.30,92.07 329.19,92.97 329.55,94.36 328.35,93.58 327.15,94.36 327.51,92.97 326.40,92.07 327.83,91.99" fill="#28483c"/>
<polygon points="328.35,85.65 328.87,86.99 330.30,87.07 329.19,87.97 329.55,89.36 328.35,88.58 327.15,89.36 327.51,87.97 326.40,87.07 327.83,86.99" fill="#a08c55"/>
<polygon points="328.35,79.35 328.87,80.69 330.30,80.77 329.19,81.67 329.55,83.06 328.35,82.28 327.15,83.06 327.51,81.67 326.40,80.77 327.83,80.69" fill="#8f8fc2"/>
<line x1="328.35" y1="160.50" x2="328.35" y2="163.50" stroke="#111" stroke-width="0.85"/>
<text transform="translate(330.20 166.80) rotate(-90) scale(0.955 1)" font-size="5.20" text-anchor="end" fill="#0a0a0a" stroke="#0a0a0a" stroke-width="0.17">ATM</text>
<rect x="331.60" y="151.80" width="2.60" height="8.70" fill="#7c0e2b"/>
<rect x="331.60" y="100.00" width="2.60" height="51.80" fill="#271238"/>
<polygon points="332.90,94.25 333.42,95.59 334.85,95.67 333.74,96.57 334.10,97.96 332.90,97.18 331.70,97.96 332.06,96.57 330.95,95.67 332.38,95.59" fill="#8f8fc2"/>
<line x1="332.90" y1="160.50" x2="332.90" y2="163.50" stroke="#111" stroke-width="0.85"/>
<text transform="translate(334.75 166.80) rotate(-90) scale(0.955 1)" font-size="5.20" text-anchor="end" fill="#0a0a0a" stroke="#0a0a0a" stroke-width="0.17">NF1</text>
<rect x="336.15" y="100.00" width="2.60" height="60.50" fill="#271238"/>
<polygon points="337.45,94.25 337.97,95.59 339.40,95.67 338.29,96.57 338.65,97.96 337.45,97.18 336.25,97.96 336.61,96.57 335.50,95.67 336.93,95.59" fill="#8f8fc2"/>
<line x1="337.45" y1="160.50" x2="337.45" y2="163.50" stroke="#111" stroke-width="0.85"/>
<text transform="translate(339.30 166.80) rotate(-90) scale(0.955 1)" font-size="5.20" text-anchor="end" fill="#0a0a0a" stroke="#0a0a0a" stroke-width="0.17">MTOR</text>
<rect x="340.70" y="115.50" width="2.60" height="45.00" fill="#7c0e2b"/>
<polygon points="342.00,109.95 342.52,111.29 343.95,111.37 342.84,112.27 343.20,113.66 342.00,112.88 340.80,113.66 341.16,112.27 340.05,111.37 341.48,111.29" fill="#28483c"/>
<polygon points="342.00,105.05 342.52,106.39 343.95,106.47 342.84,107.37 343.20,108.76 342.00,107.98 340.80,108.76 341.16,107.37 340.05,106.47 341.48,106.39" fill="#a08c55"/>
<line x1="342.00" y1="160.50" x2="342.00" y2="163.50" stroke="#111" stroke-width="0.85"/>
<text transform="translate(343.85 166.80) rotate(-90) scale(0.955 1)" font-size="5.20" text-anchor="end" fill="#0a0a0a" stroke="#0a0a0a" stroke-width="0.17">PTPN11</text>
<rect x="345.25" y="155.50" width="2.60" height="5.00" fill="#e4ba88"/>
<rect x="345.25" y="117.40" width="2.60" height="38.10" fill="#271238"/>
<line x1="346.55" y1="160.50" x2="346.55" y2="163.50" stroke="#111" stroke-width="0.85"/>
<text transform="translate(348.40 166.80) rotate(-90) scale(0.955 1)" font-size="5.20" text-anchor="end" fill="#0a0a0a" stroke="#0a0a0a" stroke-width="0.17">SPOP</text>
<rect x="349.80" y="156.20" width="2.60" height="4.30" fill="#7c0e2b"/>
<rect x="349.80" y="149.60" width="2.60" height="6.60" fill="#e4ba88"/>
<rect x="349.80" y="124.70" width="2.60" height="24.90" fill="#271238"/>
<polygon points="351.10,118.95 351.62,120.29 353.05,120.37 351.94,121.27 352.30,122.66 351.10,121.88 349.90,122.66 350.26,121.27 349.15,120.37 350.58,120.29" fill="#28483c"/>
<polygon points="351.10,113.95 351.62,115.29 353.05,115.37 351.94,116.27 352.30,117.66 351.10,116.88 349.90,117.66 350.26,116.27 349.15,115.37 350.58,115.29" fill="#a08c55"/>
<line x1="351.10" y1="160.50" x2="351.10" y2="163.50" stroke="#111" stroke-width="0.85"/>
<text transform="translate(352.95 166.80) rotate(-90) scale(0.955 1)" font-size="5.20" text-anchor="end" fill="#0a0a0a" stroke="#0a0a0a" stroke-width="0.17">EVI1</text>
<rect x="354.35" y="127.00" width="2.60" height="33.50" fill="#7c0e2b"/>
<line x1="355.65" y1="160.50" x2="355.65" y2="163.50" stroke="#111" stroke-width="0.85"/>
<text transform="translate(357.50 166.80) rotate(-90) scale(0.955 1)" font-size="5.20" text-anchor="end" fill="#0a0a0a" stroke="#0a0a0a" stroke-width="0.17">BCOR</text>
<rect x="358.90" y="132.40" width="2.60" height="28.10" fill="#7c0e2b"/>
<polygon points="360.20,126.95 360.72,128.29 362.15,128.37 361.04,129.27 361.40,130.66 360.20,129.88 359.00,130.66 359.36,129.27 358.25,128.37 359.68,128.29" fill="#28483c"/>
<polygon points="360.20,122.25 360.72,123.59 362.15,123.67 361.04,124.57 361.40,125.96 360.20,125.18 359.00,125.96 359.36,124.57 358.25,123.67 359.68,123.59" fill="#a08c55"/>
<polygon points="360.20,116.75 360.72,118.09 362.15,118.17 361.04,119.07 361.40,120.46 360.20,119.68 359.00,120.46 359.36,119.07 358.25,118.17 359.68,118.09" fill="#8f8fc2"/>
<line x1="360.20" y1="160.50" x2="360.20" y2="163.50" stroke="#111" stroke-width="0.85"/>
<text transform="translate(362.05 166.80) rotate(-90) scale(0.955 1)" font-size="5.20" text-anchor="end" fill="#0a0a0a" stroke="#0a0a0a" stroke-width="0.17">MPL</text>
<rect x="363.45" y="134.20" width="2.60" height="26.30" fill="#271238"/>
<line x1="364.75" y1="160.50" x2="364.75" y2="163.50" stroke="#111" stroke-width="0.85"/>
<text transform="translate(366.60 166.80) rotate(-90) scale(0.955 1)" font-size="5.20" text-anchor="end" fill="#0a0a0a" stroke="#0a0a0a" stroke-width="0.17">SUZ12</text>
<rect x="368.00" y="154.80" width="2.60" height="5.70" fill="#7c0e2b"/>
<rect x="368.00" y="145.80" width="2.60" height="9.00" fill="#b0b98a"/>
<rect x="368.00" y="134.20" width="2.60" height="11.60" fill="#271238"/>
<line x1="369.30" y1="160.50" x2="369.30" y2="163.50" stroke="#111" stroke-width="0.85"/>
<text transform="translate(371.15 166.80) rotate(-90) scale(0.955 1)" font-size="5.20" text-anchor="end" fill="#0a0a0a" stroke="#0a0a0a" stroke-width="0.17">PDGFRA</text>
<rect x="372.55" y="150.00" width="2.60" height="10.50" fill="#7c0e2b"/>
<rect x="372.55" y="136.00" width="2.60" height="14.00" fill="#271238"/>
<polygon points="373.85,130.45 374.37,131.79 375.80,131.87 374.69,132.77 375.05,134.16 373.85,133.38 372.65,134.16 373.01,132.77 371.90,131.87 373.33,131.79" fill="#a08c55"/>
<line x1="373.85" y1="160.50" x2="373.85" y2="163.50" stroke="#111" stroke-width="0.85"/>
<text transform="translate(375.70 166.80) rotate(-90) scale(0.955 1)" font-size="5.20" text-anchor="end" fill="#0a0a0a" stroke="#0a0a0a" stroke-width="0.17">PHF19</text>
<rect x="377.10" y="138.20" width="2.60" height="22.30" fill="#7c0e2b"/>
<polygon points="378.40,132.95 378.92,134.29 380.35,134.37 379.24,135.27 379.60,136.66 378.40,135.88 377.20,136.66 377.56,135.27 376.45,134.37 377.88,134.29" fill="#28483c"/>
<polygon points="378.40,128.05 378.92,129.39 380.35,129.47 379.24,130.37 379.60,131.76 378.40,130.98 377.20,131.76 377.56,130.37 376.45,129.47 377.88,129.39" fill="#a08c55"/>
<line x1="378.40" y1="160.50" x2="378.40" y2="163.50" stroke="#111" stroke-width="0.85"/>
<text transform="translate(380.25 166.80) rotate(-90) scale(0.955 1)" font-size="5.20" text-anchor="end" fill="#0a0a0a" stroke="#0a0a0a" stroke-width="0.17">TCF3</text>
<rect x="381.65" y="138.20" width="2.60" height="22.30" fill="#7c0e2b"/>
<line x1="382.95" y1="160.50" x2="382.95" y2="163.50" stroke="#111" stroke-width="0.85"/>
<text transform="translate(384.80 166.80) rotate(-90) scale(0.955 1)" font-size="5.20" text-anchor="end" fill="#0a0a0a" stroke="#0a0a0a" stroke-width="0.17">MDM2</text>
<rect x="386.20" y="139.80" width="2.60" height="20.70" fill="#7c0e2b"/>
<polygon points="387.50,134.45 388.02,135.79 389.45,135.87 388.34,136.77 388.70,138.16 387.50,137.38 386.30,138.16 386.66,136.77 385.55,135.87 386.98,135.79" fill="#28483c"/>
<polygon points="387.50,129.75 388.02,131.09 389.45,131.17 388.34,132.07 388.70,133.46 387.50,132.68 386.30,133.46 386.66,132.07 385.55,131.17 386.98,131.09" fill="#a08c55"/>
<line x1="387.50" y1="160.50" x2="387.50" y2="163.50" stroke="#111" stroke-width="0.85"/>
<text transform="translate(389.35 166.80) rotate(-90) scale(0.955 1)" font-size="5.20" text-anchor="end" fill="#0a0a0a" stroke="#0a0a0a" stroke-width="0.17">PIM1</text>
<rect x="390.75" y="148.00" width="2.60" height="12.50" fill="#7c0e2b"/>
<rect x="390.75" y="139.80" width="2.60" height="8.20" fill="#271238"/>
<polygon points="392.05,134.45 392.57,135.79 394.00,135.87 392.89,136.77 393.25,138.16 392.05,137.38 390.85,138.16 391.21,136.77 390.10,135.87 391.53,135.79" fill="#a08c55"/>
<line x1="392.05" y1="160.50" x2="392.05" y2="163.50" stroke="#111" stroke-width="0.85"/>
<text transform="translate(393.90 166.80) rotate(-90) scale(0.955 1)" font-size="5.20" text-anchor="end" fill="#0a0a0a" stroke="#0a0a0a" stroke-width="0.17">MYB</text>
<rect x="395.30" y="142.30" width="2.60" height="18.20" fill="#e4ba88"/>
<polygon points="396.60,136.45 397.12,137.79 398.55,137.87 397.44,138.77 397.80,140.16 396.60,139.38 395.40,140.16 395.76,138.77 394.65,137.87 396.08,137.79" fill="#a08c55"/>
<line x1="396.60" y1="160.50" x2="396.60" y2="163.50" stroke="#111" stroke-width="0.85"/>
<text transform="translate(398.45 166.80) rotate(-90) scale(0.955 1)" font-size="5.20" text-anchor="end" fill="#0a0a0a" stroke="#0a0a0a" stroke-width="0.17">CREBBP</text>
<rect x="399.85" y="143.80" width="2.60" height="16.70" fill="#7c0e2b"/>
<line x1="401.15" y1="160.50" x2="401.15" y2="163.50" stroke="#111" stroke-width="0.85"/>
<text transform="translate(403.00 166.80) rotate(-90) scale(0.955 1)" font-size="5.20" text-anchor="end" fill="#0a0a0a" stroke="#0a0a0a" stroke-width="0.17">RARA</text>
<rect x="404.40" y="155.60" width="2.60" height="4.90" fill="#b0b98a"/>
<rect x="404.40" y="145.50" width="2.60" height="10.10" fill="#271238"/>
<line x1="405.70" y1="160.50" x2="405.70" y2="163.50" stroke="#111" stroke-width="0.85"/>
<text transform="translate(407.55 166.80) rotate(-90) scale(0.955 1)" font-size="5.20" text-anchor="end" fill="#0a0a0a" stroke="#0a0a0a" stroke-width="0.17">MAX</text>
<rect x="408.95" y="145.50" width="2.60" height="15.00" fill="#271238"/>
<polygon points="410.25,140.15 410.77,141.49 412.20,141.57 411.09,142.47 411.45,143.86 410.25,143.08 409.05,143.86 409.41,142.47 408.30,141.57 409.73,141.49" fill="#8f8fc2"/>
<line x1="410.25" y1="160.50" x2="410.25" y2="163.50" stroke="#111" stroke-width="0.85"/>
<text transform="translate(412.10 166.80) rotate(-90) scale(0.955 1)" font-size="5.20" text-anchor="end" fill="#0a0a0a" stroke="#0a0a0a" stroke-width="0.17">NPM1</text>
<rect x="413.50" y="155.00" width="2.60" height="5.50" fill="#7c0e2b"/>
<rect x="413.50" y="147.50" width="2.60" height="7.50" fill="#271238"/>
<line x1="414.80" y1="160.50" x2="414.80" y2="163.50" stroke="#111" stroke-width="0.85"/>
<text transform="translate(416.65 166.80) rotate(-90) scale(0.955 1)" font-size="5.20" text-anchor="end" fill="#0a0a0a" stroke="#0a0a0a" stroke-width="0.17">SMC3</text>
<rect x="418.05" y="147.50" width="2.60" height="13.00" fill="#271238"/>
<line x1="419.35" y1="160.50" x2="419.35" y2="163.50" stroke="#111" stroke-width="0.85"/>
<text transform="translate(421.20 166.80) rotate(-90) scale(0.955 1)" font-size="5.20" text-anchor="end" fill="#0a0a0a" stroke="#0a0a0a" stroke-width="0.17">ACVR1B</text>
<rect x="422.60" y="149.20" width="2.60" height="11.30" fill="#271238"/>
<line x1="423.90" y1="160.50" x2="423.90" y2="163.50" stroke="#111" stroke-width="0.85"/>
<text transform="translate(425.75 166.80) rotate(-90) scale(0.955 1)" font-size="5.20" text-anchor="end" fill="#0a0a0a" stroke="#0a0a0a" stroke-width="0.17">TCF4</text>
<rect x="427.15" y="148.00" width="2.60" height="12.50" fill="#e4ba88"/>
<polygon points="428.45,142.45 428.97,143.79 430.40,143.87 429.29,144.77 429.65,146.16 428.45,145.38 427.25,146.16 427.61,144.77 426.50,143.87 427.93,143.79" fill="#a08c55"/>
<line x1="428.45" y1="160.50" x2="428.45" y2="163.50" stroke="#111" stroke-width="0.85"/>
<text transform="translate(430.30 166.80) rotate(-90) scale(0.955 1)" font-size="5.20" text-anchor="end" fill="#0a0a0a" stroke="#0a0a0a" stroke-width="0.17">BCORL1</text>
<rect x="431.70" y="149.80" width="2.60" height="10.70" fill="#7c0e2b"/>
<polygon points="433.00,144.35 433.52,145.69 434.95,145.77 433.84,146.67 434.20,148.06 433.00,147.28 431.80,148.06 432.16,146.67 431.05,145.77 432.48,145.69" fill="#28483c"/>
<polygon points="433.00,139.85 433.52,141.19 434.95,141.27 433.84,142.17 434.20,143.56 433.00,142.78 431.80,143.56 432.16,142.17 431.05,141.27 432.48,141.19" fill="#a08c55"/>
<line x1="433.00" y1="160.50" x2="433.00" y2="163.50" stroke="#111" stroke-width="0.85"/>
<text transform="translate(434.85 166.80) rotate(-90) scale(0.955 1)" font-size="5.20" text-anchor="end" fill="#0a0a0a" stroke="#0a0a0a" stroke-width="0.17">JAK2</text>
<rect x="436.25" y="149.30" width="2.60" height="11.20" fill="#271238"/>
<line x1="437.55" y1="160.50" x2="437.55" y2="163.50" stroke="#111" stroke-width="0.85"/>
<text transform="translate(439.40 166.80) rotate(-90) scale(0.955 1)" font-size="5.20" text-anchor="end" fill="#0a0a0a" stroke="#0a0a0a" stroke-width="0.17">TAL1</text>
<rect x="440.80" y="148.80" width="2.60" height="11.70" fill="#b0b98a"/>
<polygon points="442.10,143.45 442.62,144.79 444.05,144.87 442.94,145.77 443.30,147.16 442.10,146.38 440.90,147.16 441.26,145.77 440.15,144.87 441.58,144.79" fill="#8f8fc2"/>
<line x1="442.10" y1="160.50" x2="442.10" y2="163.50" stroke="#111" stroke-width="0.85"/>
<text transform="translate(443.95 166.80) rotate(-90) scale(0.955 1)" font-size="5.20" text-anchor="end" fill="#0a0a0a" stroke="#0a0a0a" stroke-width="0.17">SMC1A</text>
<rect x="445.35" y="149.30" width="2.60" height="11.20" fill="#271238"/>
<line x1="446.65" y1="160.50" x2="446.65" y2="163.50" stroke="#111" stroke-width="0.85"/>
<text transform="translate(448.50 166.80) rotate(-90) scale(0.955 1)" font-size="5.20" text-anchor="end" fill="#0a0a0a" stroke="#0a0a0a" stroke-width="0.17">IRF4</text>
<rect x="449.90" y="155.60" width="2.60" height="4.90" fill="#7c0e2b"/>
<rect x="449.90" y="149.30" width="2.60" height="6.30" fill="#271238"/>
<line x1="451.20" y1="160.50" x2="451.20" y2="163.50" stroke="#111" stroke-width="0.85"/>
<text transform="translate(453.05 166.80) rotate(-90) scale(0.955 1)" font-size="5.20" text-anchor="end" fill="#0a0a0a" stroke="#0a0a0a" stroke-width="0.17">PTEN</text>
<rect x="454.45" y="157.50" width="2.60" height="3.00" fill="#7c0e2b"/>
<rect x="454.45" y="155.00" width="2.60" height="2.50" fill="#e4ba88"/>
<rect x="454.45" y="151.30" width="2.60" height="3.70" fill="#271238"/>
<line x1="455.75" y1="160.50" x2="455.75" y2="163.50" stroke="#111" stroke-width="0.85"/>
<text transform="translate(457.60 166.80) rotate(-90) scale(0.955 1)" font-size="5.20" text-anchor="end" fill="#0a0a0a" stroke="#0a0a0a" stroke-width="0.17">CTLA4</text>
<rect x="459.00" y="151.30" width="2.60" height="9.20" fill="#271238"/>
<line x1="460.30" y1="160.50" x2="460.30" y2="163.50" stroke="#111" stroke-width="0.85"/>
<text transform="translate(462.15 166.80) rotate(-90) scale(0.955 1)" font-size="5.20" text-anchor="end" fill="#0a0a0a" stroke="#0a0a0a" stroke-width="0.17">ETV6</text>
<rect x="463.55" y="151.30" width="2.60" height="9.20" fill="#b0b98a"/>
<line x1="464.85" y1="160.50" x2="464.85" y2="163.50" stroke="#111" stroke-width="0.85"/>
<text transform="translate(466.70 166.80) rotate(-90) scale(0.955 1)" font-size="5.20" text-anchor="end" fill="#0a0a0a" stroke="#0a0a0a" stroke-width="0.17">SOCS1</text>
<rect x="468.10" y="151.30" width="2.60" height="9.20" fill="#b0b98a"/>
<line x1="469.40" y1="160.50" x2="469.40" y2="163.50" stroke="#111" stroke-width="0.85"/>
<text transform="translate(471.25 166.80) rotate(-90) scale(0.955 1)" font-size="5.20" text-anchor="end" fill="#0a0a0a" stroke="#0a0a0a" stroke-width="0.17">IKZF1</text>
<rect x="472.65" y="157.00" width="2.60" height="3.50" fill="#e4ba88"/>
<rect x="472.65" y="151.30" width="2.60" height="5.70" fill="#271238"/>
<line x1="473.95" y1="160.50" x2="473.95" y2="163.50" stroke="#111" stroke-width="0.85"/>
<text transform="translate(475.80 166.80) rotate(-90) scale(0.955 1)" font-size="5.20" text-anchor="end" fill="#0a0a0a" stroke="#0a0a0a" stroke-width="0.17">RB1</text>
<rect x="477.20" y="158.00" width="2.60" height="2.50" fill="#7c0e2b"/>
<rect x="477.20" y="155.00" width="2.60" height="3.00" fill="#e4ba88"/>
<rect x="477.20" y="151.20" width="2.60" height="3.80" fill="#271238"/>
<line x1="478.50" y1="160.50" x2="478.50" y2="163.50" stroke="#111" stroke-width="0.85"/>
<text transform="translate(480.35 166.80) rotate(-90) scale(0.955 1)" font-size="5.20" text-anchor="end" fill="#0a0a0a" stroke="#0a0a0a" stroke-width="0.17">SOCS3</text>
<rect x="481.75" y="153.50" width="2.60" height="7.00" fill="#b0b98a"/>
<line x1="483.05" y1="160.50" x2="483.05" y2="163.50" stroke="#111" stroke-width="0.85"/>
<text transform="translate(484.90 166.80) rotate(-90) scale(0.955 1)" font-size="5.20" text-anchor="end" fill="#0a0a0a" stroke="#0a0a0a" stroke-width="0.17">PICALM</text>
<rect x="486.30" y="153.50" width="2.60" height="7.00" fill="#7c0e2b"/>
<line x1="487.60" y1="160.50" x2="487.60" y2="163.50" stroke="#111" stroke-width="0.85"/>
<text transform="translate(489.45 166.80) rotate(-90) scale(0.955 1)" font-size="5.20" text-anchor="end" fill="#0a0a0a" stroke="#0a0a0a" stroke-width="0.17">CD274</text>
<rect x="490.85" y="153.50" width="2.60" height="7.00" fill="#7c0e2b"/>
<line x1="492.15" y1="160.50" x2="492.15" y2="163.50" stroke="#111" stroke-width="0.85"/>
<text transform="translate(494.00 166.80) rotate(-90) scale(0.955 1)" font-size="5.20" text-anchor="end" fill="#0a0a0a" stroke="#0a0a0a" stroke-width="0.17">AKT1</text>
<rect x="495.40" y="153.50" width="2.60" height="7.00" fill="#7c0e2b"/>
<polygon points="496.70,147.95 497.22,149.29 498.65,149.37 497.54,150.27 497.90,151.66 496.70,150.88 495.50,151.66 495.86,150.27 494.75,149.37 496.18,149.29" fill="#a08c55"/>
<line x1="496.70" y1="160.50" x2="496.70" y2="163.50" stroke="#111" stroke-width="0.85"/>
<text transform="translate(498.55 166.80) rotate(-90) scale(0.955 1)" font-size="5.20" text-anchor="end" fill="#0a0a0a" stroke="#0a0a0a" stroke-width="0.17">IRF8</text>
<rect x="499.95" y="153.50" width="2.60" height="7.00" fill="#b0b98a"/>
<polygon points="501.25,148.15 501.77,149.49 503.20,149.57 502.09,150.47 502.45,151.86 501.25,151.08 500.05,151.86 500.41,150.47 499.30,149.57 500.73,149.49" fill="#28483c"/>
<polygon points="501.25,143.35 501.77,144.69 503.20,144.77 502.09,145.67 502.45,147.06 501.25,146.28 500.05,147.06 500.41,145.67 499.30,144.77 500.73,144.69" fill="#a08c55"/>
<line x1="501.25" y1="160.50" x2="501.25" y2="163.50" stroke="#111" stroke-width="0.85"/>
<text transform="translate(503.10 166.80) rotate(-90) scale(0.955 1)" font-size="5.20" text-anchor="end" fill="#0a0a0a" stroke="#0a0a0a" stroke-width="0.17">ABL1</text>
<rect x="504.50" y="153.50" width="2.60" height="7.00" fill="#271238"/>
<line x1="505.80" y1="160.50" x2="505.80" y2="163.50" stroke="#111" stroke-width="0.85"/>
<text transform="translate(507.65 166.80) rotate(-90) scale(0.955 1)" font-size="5.20" text-anchor="end" fill="#0a0a0a" stroke="#0a0a0a" stroke-width="0.17">MYC</text>
<rect x="509.05" y="154.80" width="2.60" height="5.70" fill="#7c0e2b"/>
<line x1="510.35" y1="160.50" x2="510.35" y2="163.50" stroke="#111" stroke-width="0.85"/>
<text transform="translate(512.20 166.80) rotate(-90) scale(0.955 1)" font-size="5.20" text-anchor="end" fill="#0a0a0a" stroke="#0a0a0a" stroke-width="0.17">STK11</text>
<line x1="286.20" y1="29.00" x2="286.20" y2="160.50" stroke="#111" stroke-width="0.9"/>
<line x1="283.20" y1="160.50" x2="286.20" y2="160.50" stroke="#111" stroke-width="0.9"/>
<text x="280.30" y="162.40" font-size="5.4" text-anchor="end" fill="#111" stroke="#111" stroke-width="0.2">0</text>
<line x1="283.20" y1="134.70" x2="286.20" y2="134.70" stroke="#111" stroke-width="0.9"/>
<text x="280.30" y="136.60" font-size="5.4" text-anchor="end" fill="#111" stroke="#111" stroke-width="0.2">5</text>
<line x1="283.20" y1="108.90" x2="286.20" y2="108.90" stroke="#111" stroke-width="0.9"/>
<text x="280.30" y="110.80" font-size="5.4" text-anchor="end" fill="#111" stroke="#111" stroke-width="0.2">10</text>
<line x1="283.20" y1="83.10" x2="286.20" y2="83.10" stroke="#111" stroke-width="0.9"/>
<text x="280.30" y="85.00" font-size="5.4" text-anchor="end" fill="#111" stroke="#111" stroke-width="0.2">15</text>
<line x1="283.20" y1="57.30" x2="286.20" y2="57.30" stroke="#111" stroke-width="0.9"/>
<text x="280.30" y="59.20" font-size="5.4" text-anchor="end" fill="#111" stroke="#111" stroke-width="0.2">20</text>
<line x1="283.20" y1="31.50" x2="286.20" y2="31.50" stroke="#111" stroke-width="0.9"/>
<text x="280.30" y="33.40" font-size="5.4" text-anchor="end" fill="#111" stroke="#111" stroke-width="0.2">25</text>
<line x1="283.20" y1="160.50" x2="513.30" y2="160.50" stroke="#111" stroke-width="0.9"/>
<rect x="452.00" y="34.20" width="4.7" height="4.2" fill="#a30d38"/>
<text x="459.70" y="38.10" font-size="5.3" fill="#161616" stroke="#161616" stroke-width="0.06">Substitution/Indel</text>
<rect x="452.00" y="39.50" width="4.7" height="4.2" fill="#557e78"/>
<text x="459.70" y="43.40" font-size="5.3" fill="#161616" stroke="#161616" stroke-width="0.06">Amplification</text>
<rect x="452.00" y="44.80" width="4.7" height="4.2" fill="#e8c592"/>
<text x="459.70" y="48.70" font-size="5.3" fill="#161616" stroke="#161616" stroke-width="0.06">Homozygous deletion</text>
<rect x="452.00" y="50.10" width="4.7" height="4.2" fill="#cfd0a2"/>
<text x="459.70" y="54.00" font-size="5.3" fill="#161616" stroke="#161616" stroke-width="0.06">Rearrangement</text>
<rect x="452.00" y="55.40" width="4.7" height="4.2" fill="#3a1a4c"/>
<text x="459.70" y="59.30" font-size="5.3" fill="#161616" stroke="#161616" stroke-width="0.06">Truncation</text>
<text x="5.0" y="213.9" font-size="11.8" font-weight="bold" stroke="#000" stroke-width="0.25">C</text>
<text x="143.1" y="219.6" font-size="7.6" font-weight="bold" text-anchor="middle" stroke="#000" stroke-width="0.12">MDS</text>
<text transform="translate(12.50 293.95) rotate(-90)" font-size="6.7" text-anchor="middle" fill="#1a1a1a" stroke="#1a1a1a" stroke-width="0.15">Percent of patients</text>
<rect x="29.25" y="353.30" width="2.60" height="7.20" fill="#7c0e2b"/>
<rect x="29.25" y="243.40" width="2.60" height="109.90" fill="#271238"/>
<polygon points="30.55,238.25 31.07,239.59 32.50,239.67 31.39,240.57 31.75,241.96 30.55,241.18 29.35,241.96 29.71,240.57 28.60,239.67 30.03,239.59" fill="#8f8fc2"/>
<line x1="30.55" y1="360.50" x2="30.55" y2="363.50" stroke="#111" stroke-width="0.85"/>
<text transform="translate(32.40 366.80) rotate(-90) scale(0.955 1)" font-size="5.20" text-anchor="end" fill="#0a0a0a" stroke="#0a0a0a" stroke-width="0.17">ASXL1</text>
<rect x="33.80" y="351.80" width="2.60" height="8.70" fill="#7c0e2b"/>
<rect x="33.80" y="294.40" width="2.60" height="57.40" fill="#271238"/>
<polygon points="35.10,288.55 35.62,289.89 37.05,289.97 35.94,290.87 36.30,292.26 35.10,291.48 33.90,292.26 34.26,290.87 33.15,289.97 34.58,289.89" fill="#28483c"/>
<polygon points="35.10,283.55 35.62,284.89 37.05,284.97 35.94,285.87 36.30,287.26 35.10,286.48 33.90,287.26 34.26,285.87 33.15,284.97 34.58,284.89" fill="#a08c55"/>
<line x1="35.10" y1="360.50" x2="35.10" y2="363.50" stroke="#111" stroke-width="0.85"/>
<text transform="translate(36.95 366.80) rotate(-90) scale(0.955 1)" font-size="5.20" text-anchor="end" fill="#0a0a0a" stroke="#0a0a0a" stroke-width="0.17">TET2</text>
<rect x="38.35" y="311.50" width="2.60" height="49.00" fill="#7c0e2b"/>
<rect x="38.35" y="304.90" width="2.60" height="6.60" fill="#271238"/>
<polygon points="39.65,299.25 40.17,300.59 41.60,300.67 40.49,301.57 40.85,302.96 39.65,302.18 38.45,302.96 38.81,301.57 37.70,300.67 39.13,300.59" fill="#8f8fc2"/>
<line x1="39.65" y1="360.50" x2="39.65" y2="363.50" stroke="#111" stroke-width="0.85"/>
<text transform="translate(41.50 366.80) rotate(-90) scale(0.955 1)" font-size="5.20" text-anchor="end" fill="#0a0a0a" stroke="#0a0a0a" stroke-width="0.17">TP53</text>
<rect x="42.90" y="307.10" width="2.60" height="53.40" fill="#271238"/>
<line x1="44.20" y1="360.50" x2="44.20" y2="363.50" stroke="#111" stroke-width="0.85"/>
<text transform="translate(46.05 366.80) rotate(-90) scale(0.955 1)" font-size="5.20" text-anchor="end" fill="#0a0a0a" stroke="#0a0a0a" stroke-width="0.17">SRSF2</text>
<rect x="47.45" y="354.00" width="2.60" height="6.50" fill="#7c0e2b"/>
<rect x="47.45" y="347.40" width="2.60" height="6.60" fill="#e4ba88"/>
<rect x="47.45" y="307.10" width="2.60" height="40.30" fill="#271238"/>
<polygon points="48.75,301.75 49.27,303.09 50.70,303.17 49.59,304.07 49.95,305.46 48.75,304.68 47.55,305.46 47.91,304.07 46.80,303.17 48.23,303.09" fill="#a08c55"/>
<polygon points="48.75,297.25 49.27,298.59 50.70,298.67 49.59,299.57 49.95,300.96 48.75,300.18 47.55,300.96 47.91,299.57 46.80,298.67 48.23,298.59" fill="#8f8fc2"/>
<line x1="48.75" y1="360.50" x2="48.75" y2="363.50" stroke="#111" stroke-width="0.85"/>
<text transform="translate(50.60 366.80) rotate(-90) scale(0.955 1)" font-size="5.20" text-anchor="end" fill="#0a0a0a" stroke="#0a0a0a" stroke-width="0.17">SPOP</text>
<rect x="52.00" y="312.00" width="2.60" height="48.50" fill="#7c0e2b"/>
<rect x="52.00" y="310.80" width="2.60" height="1.20" fill="#271238"/>
<polygon points="53.30,305.45 53.82,306.79 55.25,306.87 54.14,307.77 54.50,309.16 53.30,308.38 52.10,309.16 52.46,307.77 51.35,306.87 52.78,306.79" fill="#8f8fc2"/>
<line x1="53.30" y1="360.50" x2="53.30" y2="363.50" stroke="#111" stroke-width="0.85"/>
<text transform="translate(55.15 366.80) rotate(-90) scale(0.955 1)" font-size="5.20" text-anchor="end" fill="#0a0a0a" stroke="#0a0a0a" stroke-width="0.17">SF3B1</text>
<rect x="56.55" y="319.00" width="2.60" height="41.50" fill="#7c0e2b"/>
<rect x="56.55" y="317.80" width="2.60" height="1.20" fill="#271238"/>
<polygon points="57.85,312.45 58.37,313.79 59.80,313.87 58.69,314.77 59.05,316.16 57.85,315.38 56.65,316.16 57.01,314.77 55.90,313.87 57.33,313.79" fill="#8f8fc2"/>
<line x1="57.85" y1="360.50" x2="57.85" y2="363.50" stroke="#111" stroke-width="0.85"/>
<text transform="translate(59.70 366.80) rotate(-90) scale(0.955 1)" font-size="5.20" text-anchor="end" fill="#0a0a0a" stroke="#0a0a0a" stroke-width="0.17">RUNX1</text>
<rect x="61.10" y="326.60" width="2.60" height="33.90" fill="#b0b98a"/>
<polygon points="62.40,320.95 62.92,322.29 64.35,322.37 63.24,323.27 63.60,324.66 62.40,323.88 61.20,324.66 61.56,323.27 60.45,322.37 61.88,322.29" fill="#a08c55"/>
<line x1="62.40" y1="360.50" x2="62.40" y2="363.50" stroke="#111" stroke-width="0.85"/>
<text transform="translate(64.25 366.80) rotate(-90) scale(0.955 1)" font-size="5.20" text-anchor="end" fill="#0a0a0a" stroke="#0a0a0a" stroke-width="0.17">TCF3</text>
<rect x="65.65" y="333.00" width="2.60" height="27.50" fill="#7c0e2b"/>
<rect x="65.65" y="331.00" width="2.60" height="2.00" fill="#271238"/>
<polygon points="66.95,325.15 67.47,326.49 68.90,326.57 67.79,327.47 68.15,328.86 66.95,328.08 65.75,328.86 66.11,327.47 65.00,326.57 66.43,326.49" fill="#28483c"/>
<polygon points="66.95,320.45 67.47,321.79 68.90,321.87 67.79,322.77 68.15,324.16 66.95,323.38 65.75,324.16 66.11,322.77 65.00,321.87 66.43,321.79" fill="#a08c55"/>
<line x1="66.95" y1="360.50" x2="66.95" y2="363.50" stroke="#111" stroke-width="0.85"/>
<text transform="translate(68.80 366.80) rotate(-90) scale(0.955 1)" font-size="5.20" text-anchor="end" fill="#0a0a0a" stroke="#0a0a0a" stroke-width="0.17">PDGFRA</text>
<rect x="70.20" y="331.00" width="2.60" height="29.50" fill="#7c0e2b"/>
<polygon points="71.50,325.15 72.02,326.49 73.45,326.57 72.34,327.47 72.70,328.86 71.50,328.08 70.30,328.86 70.66,327.47 69.55,326.57 70.98,326.49" fill="#8f8fc2"/>
<line x1="71.50" y1="360.50" x2="71.50" y2="363.50" stroke="#111" stroke-width="0.85"/>
<text transform="translate(73.35 366.80) rotate(-90) scale(0.955 1)" font-size="5.20" text-anchor="end" fill="#0a0a0a" stroke="#0a0a0a" stroke-width="0.17">NRAS</text>
<rect x="74.75" y="357.00" width="2.60" height="3.50" fill="#7c0e2b"/>
<rect x="74.75" y="355.00" width="2.60" height="2.00" fill="#e4ba88"/>
<rect x="74.75" y="337.90" width="2.60" height="17.10" fill="#271238"/>
<line x1="76.05" y1="360.50" x2="76.05" y2="363.50" stroke="#111" stroke-width="0.85"/>
<text transform="translate(77.90 366.80) rotate(-90) scale(0.955 1)" font-size="5.20" text-anchor="end" fill="#0a0a0a" stroke="#0a0a0a" stroke-width="0.17">U2AF1</text>
<rect x="79.30" y="340.90" width="2.60" height="19.60" fill="#7c0e2b"/>
<polygon points="80.60,335.45 81.12,336.79 82.55,336.87 81.44,337.77 81.80,339.16 80.60,338.38 79.40,339.16 79.76,337.77 78.65,336.87 80.08,336.79" fill="#28483c"/>
<polygon points="80.60,330.55 81.12,331.89 82.55,331.97 81.44,332.87 81.80,334.26 80.60,333.48 79.40,334.26 79.76,332.87 78.65,331.97 80.08,331.89" fill="#a08c55"/>
<line x1="80.60" y1="360.50" x2="80.60" y2="363.50" stroke="#111" stroke-width="0.85"/>
<text transform="translate(82.45 366.80) rotate(-90) scale(0.955 1)" font-size="5.20" text-anchor="end" fill="#0a0a0a" stroke="#0a0a0a" stroke-width="0.17">RARA</text>
<rect x="83.85" y="343.80" width="2.60" height="16.70" fill="#271238"/>
<polygon points="85.15,338.15 85.67,339.49 87.10,339.57 85.99,340.47 86.35,341.86 85.15,341.08 83.95,341.86 84.31,340.47 83.20,339.57 84.63,339.49" fill="#8f8fc2"/>
<line x1="85.15" y1="360.50" x2="85.15" y2="363.50" stroke="#111" stroke-width="0.85"/>
<text transform="translate(87.00 366.80) rotate(-90) scale(0.955 1)" font-size="5.20" text-anchor="end" fill="#0a0a0a" stroke="#0a0a0a" stroke-width="0.17">TCF4</text>
<rect x="88.40" y="343.80" width="2.60" height="16.70" fill="#271238"/>
<line x1="89.70" y1="360.50" x2="89.70" y2="363.50" stroke="#111" stroke-width="0.85"/>
<text transform="translate(91.55 366.80) rotate(-90) scale(0.955 1)" font-size="5.20" text-anchor="end" fill="#0a0a0a" stroke="#0a0a0a" stroke-width="0.17">SUZ12</text>
<rect x="92.95" y="343.80" width="2.60" height="16.70" fill="#7c0e2b"/>
<polygon points="94.25,338.15 94.77,339.49 96.20,339.57 95.09,340.47 95.45,341.86 94.25,341.08 93.05,341.86 93.41,340.47 92.30,339.57 93.73,339.49" fill="#28483c"/>
<polygon points="94.25,332.95 94.77,334.29 96.20,334.37 95.09,335.27 95.45,336.66 94.25,335.88 93.05,336.66 93.41,335.27 92.30,334.37 93.73,334.29" fill="#a08c55"/>
<line x1="94.25" y1="360.50" x2="94.25" y2="363.50" stroke="#111" stroke-width="0.85"/>
<text transform="translate(96.10 366.80) rotate(-90) scale(0.955 1)" font-size="5.20" text-anchor="end" fill="#0a0a0a" stroke="#0a0a0a" stroke-width="0.17">CBL</text>
<rect x="97.50" y="347.30" width="2.60" height="13.20" fill="#7c0e2b"/>
<polygon points="98.80,341.55 99.32,342.89 100.75,342.97 99.64,343.87 100.00,345.26 98.80,344.48 97.60,345.26 97.96,343.87 96.85,342.97 98.28,342.89" fill="#28483c"/>
<polygon points="98.80,336.35 99.32,337.69 100.75,337.77 99.64,338.67 100.00,340.06 98.80,339.28 97.60,340.06 97.96,338.67 96.85,337.77 98.28,337.69" fill="#a08c55"/>
<line x1="98.80" y1="360.50" x2="98.80" y2="363.50" stroke="#111" stroke-width="0.85"/>
<text transform="translate(100.65 366.80) rotate(-90) scale(0.955 1)" font-size="5.20" text-anchor="end" fill="#0a0a0a" stroke="#0a0a0a" stroke-width="0.17">JAK2</text>
<rect x="102.05" y="347.30" width="2.60" height="13.20" fill="#271238"/>
<line x1="103.35" y1="360.50" x2="103.35" y2="363.50" stroke="#111" stroke-width="0.85"/>
<text transform="translate(105.20 366.80) rotate(-90) scale(0.955 1)" font-size="5.20" text-anchor="end" fill="#0a0a0a" stroke="#0a0a0a" stroke-width="0.17">CEBPA</text>
<rect x="106.60" y="347.30" width="2.60" height="13.20" fill="#7c0e2b"/>
<polygon points="107.90,341.55 108.42,342.89 109.85,342.97 108.74,343.87 109.10,345.26 107.90,344.48 106.70,345.26 107.06,343.87 105.95,342.97 107.38,342.89" fill="#28483c"/>
<polygon points="107.90,336.35 108.42,337.69 109.85,337.77 108.74,338.67 109.10,340.06 107.90,339.28 106.70,340.06 107.06,338.67 105.95,337.77 107.38,337.69" fill="#a08c55"/>
<polygon points="107.90,331.45 108.42,332.79 109.85,332.87 108.74,333.77 109.10,335.16 107.90,334.38 106.70,335.16 107.06,333.77 105.95,332.87 107.38,332.79" fill="#23315f"/>
<line x1="107.90" y1="360.50" x2="107.90" y2="363.50" stroke="#111" stroke-width="0.85"/>
<text transform="translate(109.75 366.80) rotate(-90) scale(0.955 1)" font-size="5.20" text-anchor="end" fill="#0a0a0a" stroke="#0a0a0a" stroke-width="0.17">ETV6</text>
<rect x="111.15" y="350.80" width="2.60" height="9.70" fill="#7c0e2b"/>
<polygon points="112.45,345.25 112.97,346.59 114.40,346.67 113.29,347.57 113.65,348.96 112.45,348.18 111.25,348.96 111.61,347.57 110.50,346.67 111.93,346.59" fill="#28483c"/>
<polygon points="112.45,340.45 112.97,341.79 114.40,341.87 113.29,342.77 113.65,344.16 112.45,343.38 111.25,344.16 111.61,342.77 110.50,341.87 111.93,341.79" fill="#a08c55"/>
<line x1="112.45" y1="360.50" x2="112.45" y2="363.50" stroke="#111" stroke-width="0.85"/>
<text transform="translate(114.30 366.80) rotate(-90) scale(0.955 1)" font-size="5.20" text-anchor="end" fill="#0a0a0a" stroke="#0a0a0a" stroke-width="0.17">IDH1</text>
<rect x="115.70" y="350.80" width="2.60" height="9.70" fill="#7c0e2b"/>
<line x1="117.00" y1="360.50" x2="117.00" y2="363.50" stroke="#111" stroke-width="0.85"/>
<text transform="translate(118.85 366.80) rotate(-90) scale(0.955 1)" font-size="5.20" text-anchor="end" fill="#0a0a0a" stroke="#0a0a0a" stroke-width="0.17">ACVR1B</text>
<rect x="120.25" y="350.80" width="2.60" height="9.70" fill="#271238"/>
<polygon points="121.55,345.25 122.07,346.59 123.50,346.67 122.39,347.57 122.75,348.96 121.55,348.18 120.35,348.96 120.71,347.57 119.60,346.67 121.03,346.59" fill="#28483c"/>
<polygon points="121.55,340.45 122.07,341.79 123.50,341.87 122.39,342.77 122.75,344.16 121.55,343.38 120.35,344.16 120.71,342.77 119.60,341.87 121.03,341.79" fill="#a08c55"/>
<line x1="121.55" y1="360.50" x2="121.55" y2="363.50" stroke="#111" stroke-width="0.85"/>
<text transform="translate(123.40 366.80) rotate(-90) scale(0.955 1)" font-size="5.20" text-anchor="end" fill="#0a0a0a" stroke="#0a0a0a" stroke-width="0.17">WT1</text>
<rect x="124.80" y="350.80" width="2.60" height="9.70" fill="#271238"/>
<polygon points="126.10,345.25 126.62,346.59 128.05,346.67 126.94,347.57 127.30,348.96 126.10,348.18 124.90,348.96 125.26,347.57 124.15,346.67 125.58,346.59" fill="#8f8fc2"/>
<line x1="126.10" y1="360.50" x2="126.10" y2="363.50" stroke="#111" stroke-width="0.85"/>
<text transform="translate(127.95 366.80) rotate(-90) scale(0.955 1)" font-size="5.20" text-anchor="end" fill="#0a0a0a" stroke="#0a0a0a" stroke-width="0.17">SF1</text>
<rect x="129.35" y="356.00" width="2.60" height="4.50" fill="#e4ba88"/>
<rect x="129.35" y="350.80" width="2.60" height="5.20" fill="#271238"/>
<line x1="130.65" y1="360.50" x2="130.65" y2="363.50" stroke="#111" stroke-width="0.85"/>
<text transform="translate(132.50 366.80) rotate(-90) scale(0.955 1)" font-size="5.20" text-anchor="end" fill="#0a0a0a" stroke="#0a0a0a" stroke-width="0.17">SOCS1</text>
<rect x="133.90" y="350.80" width="2.60" height="9.70" fill="#271238"/>
<polygon points="135.20,345.45 135.72,346.79 137.15,346.87 136.04,347.77 136.40,349.16 135.20,348.38 134.00,349.16 134.36,347.77 133.25,346.87 134.68,346.79" fill="#8f8fc2"/>
<line x1="135.20" y1="360.50" x2="135.20" y2="363.50" stroke="#111" stroke-width="0.85"/>
<text transform="translate(137.05 366.80) rotate(-90) scale(0.955 1)" font-size="5.20" text-anchor="end" fill="#0a0a0a" stroke="#0a0a0a" stroke-width="0.17">NPM1</text>
<rect x="138.45" y="351.00" width="2.60" height="9.50" fill="#271238"/>
<line x1="139.75" y1="360.50" x2="139.75" y2="363.50" stroke="#111" stroke-width="0.85"/>
<text transform="translate(141.60 366.80) rotate(-90) scale(0.955 1)" font-size="5.20" text-anchor="end" fill="#0a0a0a" stroke="#0a0a0a" stroke-width="0.17">FLT3</text>
<rect x="143.00" y="354.40" width="2.60" height="6.10" fill="#7c0e2b"/>
<line x1="144.30" y1="360.50" x2="144.30" y2="363.50" stroke="#111" stroke-width="0.85"/>
<text transform="translate(146.15 366.80) rotate(-90) scale(0.955 1)" font-size="5.20" text-anchor="end" fill="#0a0a0a" stroke="#0a0a0a" stroke-width="0.17">PTPN11</text>
<rect x="147.55" y="354.40" width="2.60" height="6.10" fill="#7c0e2b"/>
<line x1="148.85" y1="360.50" x2="148.85" y2="363.50" stroke="#111" stroke-width="0.85"/>
<text transform="translate(150.70 366.80) rotate(-90) scale(0.955 1)" font-size="5.20" text-anchor="end" fill="#0a0a0a" stroke="#0a0a0a" stroke-width="0.17">CREBBP</text>
<rect x="152.10" y="354.40" width="2.60" height="6.10" fill="#7c0e2b"/>
<line x1="153.40" y1="360.50" x2="153.40" y2="363.50" stroke="#111" stroke-width="0.85"/>
<text transform="translate(155.25 366.80) rotate(-90) scale(0.955 1)" font-size="5.20" text-anchor="end" fill="#0a0a0a" stroke="#0a0a0a" stroke-width="0.17">EVI1</text>
<rect x="156.65" y="354.40" width="2.60" height="6.10" fill="#271238"/>
<line x1="157.95" y1="360.50" x2="157.95" y2="363.50" stroke="#111" stroke-width="0.85"/>
<text transform="translate(159.80 366.80) rotate(-90) scale(0.955 1)" font-size="5.20" text-anchor="end" fill="#0a0a0a" stroke="#0a0a0a" stroke-width="0.17">MTOR</text>
<rect x="161.20" y="354.40" width="2.60" height="6.10" fill="#7c0e2b"/>
<line x1="162.50" y1="360.50" x2="162.50" y2="363.50" stroke="#111" stroke-width="0.85"/>
<text transform="translate(164.35 366.80) rotate(-90) scale(0.955 1)" font-size="5.20" text-anchor="end" fill="#0a0a0a" stroke="#0a0a0a" stroke-width="0.17">NF1</text>
<rect x="165.75" y="354.40" width="2.60" height="6.10" fill="#7c0e2b"/>
<line x1="167.05" y1="360.50" x2="167.05" y2="363.50" stroke="#111" stroke-width="0.85"/>
<text transform="translate(168.90 366.80) rotate(-90) scale(0.955 1)" font-size="5.20" text-anchor="end" fill="#0a0a0a" stroke="#0a0a0a" stroke-width="0.17">PHF6</text>
<rect x="170.30" y="354.40" width="2.60" height="6.10" fill="#7c0e2b"/>
<polygon points="171.60,348.95 172.12,350.29 173.55,350.37 172.44,351.27 172.80,352.66 171.60,351.88 170.40,352.66 170.76,351.27 169.65,350.37 171.08,350.29" fill="#28483c"/>
<polygon points="171.60,344.25 172.12,345.59 173.55,345.67 172.44,346.57 172.80,347.96 171.60,347.18 170.40,347.96 170.76,346.57 169.65,345.67 171.08,345.59" fill="#a08c55"/>
<line x1="171.60" y1="360.50" x2="171.60" y2="363.50" stroke="#111" stroke-width="0.85"/>
<text transform="translate(173.45 366.80) rotate(-90) scale(0.955 1)" font-size="5.20" text-anchor="end" fill="#0a0a0a" stroke="#0a0a0a" stroke-width="0.17">MYB</text>
<rect x="174.85" y="354.40" width="2.60" height="6.10" fill="#7c0e2b"/>
<line x1="176.15" y1="360.50" x2="176.15" y2="363.50" stroke="#111" stroke-width="0.85"/>
<text transform="translate(178.00 366.80) rotate(-90) scale(0.955 1)" font-size="5.20" text-anchor="end" fill="#0a0a0a" stroke="#0a0a0a" stroke-width="0.17">BCORL1</text>
<rect x="179.40" y="354.40" width="2.60" height="6.10" fill="#7c0e2b"/>
<line x1="180.70" y1="360.50" x2="180.70" y2="363.50" stroke="#111" stroke-width="0.85"/>
<text transform="translate(182.55 366.80) rotate(-90) scale(0.955 1)" font-size="5.20" text-anchor="end" fill="#0a0a0a" stroke="#0a0a0a" stroke-width="0.17">AKT1</text>
<rect x="183.95" y="354.40" width="2.60" height="6.10" fill="#7c0e2b"/>
<polygon points="185.25,348.95 185.77,350.29 187.20,350.37 186.09,351.27 186.45,352.66 185.25,351.88 184.05,352.66 184.41,351.27 183.30,350.37 184.73,350.29" fill="#28483c"/>
<polygon points="185.25,344.25 185.77,345.59 187.20,345.67 186.09,346.57 186.45,347.96 185.25,347.18 184.05,347.96 184.41,346.57 183.30,345.67 184.73,345.59" fill="#a08c55"/>
<line x1="185.25" y1="360.50" x2="185.25" y2="363.50" stroke="#111" stroke-width="0.85"/>
<text transform="translate(187.10 366.80) rotate(-90) scale(0.955 1)" font-size="5.20" text-anchor="end" fill="#0a0a0a" stroke="#0a0a0a" stroke-width="0.17">PHF19</text>
<rect x="188.50" y="357.60" width="2.60" height="2.90" fill="#271238"/>
<line x1="189.80" y1="360.50" x2="189.80" y2="363.50" stroke="#111" stroke-width="0.85"/>
<text transform="translate(191.65 366.80) rotate(-90) scale(0.955 1)" font-size="5.20" text-anchor="end" fill="#0a0a0a" stroke="#0a0a0a" stroke-width="0.17">PRPF8</text>
<rect x="193.05" y="357.60" width="2.60" height="2.90" fill="#271238"/>
<line x1="194.35" y1="360.50" x2="194.35" y2="363.50" stroke="#111" stroke-width="0.85"/>
<text transform="translate(196.20 366.80) rotate(-90) scale(0.955 1)" font-size="5.20" text-anchor="end" fill="#0a0a0a" stroke="#0a0a0a" stroke-width="0.17">AKT2</text>
<rect x="197.60" y="357.60" width="2.60" height="2.90" fill="#271238"/>
<line x1="198.90" y1="360.50" x2="198.90" y2="363.50" stroke="#111" stroke-width="0.85"/>
<text transform="translate(200.75 366.80) rotate(-90) scale(0.955 1)" font-size="5.20" text-anchor="end" fill="#0a0a0a" stroke="#0a0a0a" stroke-width="0.17">NF2</text>
<rect x="202.15" y="357.60" width="2.60" height="2.90" fill="#271238"/>
<line x1="203.45" y1="360.50" x2="203.45" y2="363.50" stroke="#111" stroke-width="0.85"/>
<text transform="translate(205.30 366.80) rotate(-90) scale(0.955 1)" font-size="5.20" text-anchor="end" fill="#0a0a0a" stroke="#0a0a0a" stroke-width="0.17">SOCS3</text>
<rect x="206.70" y="357.60" width="2.60" height="2.90" fill="#271238"/>
<line x1="208.00" y1="360.50" x2="208.00" y2="363.50" stroke="#111" stroke-width="0.85"/>
<text transform="translate(209.85 366.80) rotate(-90) scale(0.955 1)" font-size="5.20" text-anchor="end" fill="#0a0a0a" stroke="#0a0a0a" stroke-width="0.17">PICALM</text>
<rect x="211.25" y="359.00" width="2.60" height="1.50" fill="#7b82b8"/>
<rect x="211.25" y="357.60" width="2.60" height="1.40" fill="#271238"/>
<polygon points="212.55,351.55 213.07,352.89 214.50,352.97 213.39,353.87 213.75,355.26 212.55,354.48 211.35,355.26 211.71,353.87 210.60,352.97 212.03,352.89" fill="#28483c"/>
<polygon points="212.55,346.55 213.07,347.89 214.50,347.97 213.39,348.87 213.75,350.26 212.55,349.48 211.35,350.26 211.71,348.87 210.60,347.97 212.03,347.89" fill="#a08c55"/>
<line x1="212.55" y1="360.50" x2="212.55" y2="363.50" stroke="#111" stroke-width="0.85"/>
<text transform="translate(214.40 366.80) rotate(-90) scale(0.955 1)" font-size="5.20" text-anchor="end" fill="#0a0a0a" stroke="#0a0a0a" stroke-width="0.17">USP7</text>
<rect x="215.80" y="359.00" width="2.60" height="1.50" fill="#7c0e2b"/>
<rect x="215.80" y="357.60" width="2.60" height="1.40" fill="#271238"/>
<line x1="217.10" y1="360.50" x2="217.10" y2="363.50" stroke="#111" stroke-width="0.85"/>
<text transform="translate(218.95 366.80) rotate(-90) scale(0.955 1)" font-size="5.20" text-anchor="end" fill="#0a0a0a" stroke="#0a0a0a" stroke-width="0.17">ALK</text>
<rect x="220.35" y="357.60" width="2.60" height="2.90" fill="#7c0e2b"/>
<line x1="221.65" y1="360.50" x2="221.65" y2="363.50" stroke="#111" stroke-width="0.85"/>
<text transform="translate(223.50 366.80) rotate(-90) scale(0.955 1)" font-size="5.20" text-anchor="end" fill="#0a0a0a" stroke="#0a0a0a" stroke-width="0.17">CTLA4</text>
<rect x="224.90" y="357.60" width="2.60" height="2.90" fill="#b0b98a"/>
<line x1="226.20" y1="360.50" x2="226.20" y2="363.50" stroke="#111" stroke-width="0.85"/>
<text transform="translate(228.05 366.80) rotate(-90) scale(0.955 1)" font-size="5.20" text-anchor="end" fill="#0a0a0a" stroke="#0a0a0a" stroke-width="0.17">PTEN</text>
<rect x="229.45" y="357.60" width="2.60" height="2.90" fill="#271238"/>
<line x1="230.75" y1="360.50" x2="230.75" y2="363.50" stroke="#111" stroke-width="0.85"/>
<text transform="translate(232.60 366.80) rotate(-90) scale(0.955 1)" font-size="5.20" text-anchor="end" fill="#0a0a0a" stroke="#0a0a0a" stroke-width="0.17">MAX</text>
<rect x="234.00" y="359.00" width="2.60" height="1.50" fill="#7c0e2b"/>
<rect x="234.00" y="357.60" width="2.60" height="1.40" fill="#271238"/>
<line x1="235.30" y1="360.50" x2="235.30" y2="363.50" stroke="#111" stroke-width="0.85"/>
<text transform="translate(237.15 366.80) rotate(-90) scale(0.955 1)" font-size="5.20" text-anchor="end" fill="#0a0a0a" stroke="#0a0a0a" stroke-width="0.17">EBF1</text>
<rect x="238.55" y="357.60" width="2.60" height="2.90" fill="#271238"/>
<line x1="239.85" y1="360.50" x2="239.85" y2="363.50" stroke="#111" stroke-width="0.85"/>
<text transform="translate(241.70 366.80) rotate(-90) scale(0.955 1)" font-size="5.20" text-anchor="end" fill="#0a0a0a" stroke="#0a0a0a" stroke-width="0.17">IRF4</text>
<rect x="243.10" y="357.60" width="2.60" height="2.90" fill="#271238"/>
<line x1="244.40" y1="360.50" x2="244.40" y2="363.50" stroke="#111" stroke-width="0.85"/>
<text transform="translate(246.25 366.80) rotate(-90) scale(0.955 1)" font-size="5.20" text-anchor="end" fill="#0a0a0a" stroke="#0a0a0a" stroke-width="0.17">CTCF</text>
<rect x="247.65" y="357.60" width="2.60" height="2.90" fill="#7c0e2b"/>
<line x1="248.95" y1="360.50" x2="248.95" y2="363.50" stroke="#111" stroke-width="0.85"/>
<text transform="translate(250.80 366.80) rotate(-90) scale(0.955 1)" font-size="5.20" text-anchor="end" fill="#0a0a0a" stroke="#0a0a0a" stroke-width="0.17">CD274</text>
<rect x="252.20" y="357.60" width="2.60" height="2.90" fill="#7c0e2b"/>
<line x1="253.50" y1="360.50" x2="253.50" y2="363.50" stroke="#111" stroke-width="0.85"/>
<text transform="translate(255.35 366.80) rotate(-90) scale(0.955 1)" font-size="5.20" text-anchor="end" fill="#0a0a0a" stroke="#0a0a0a" stroke-width="0.17">MLL1</text>
<line x1="29.50" y1="228.20" x2="29.50" y2="360.50" stroke="#111" stroke-width="0.9"/>
<line x1="26.50" y1="360.50" x2="29.50" y2="360.50" stroke="#111" stroke-width="0.9"/>
<text x="23.60" y="362.40" font-size="5.4" text-anchor="end" fill="#111" stroke="#111" stroke-width="0.2">0</text>
<line x1="26.50" y1="338.85" x2="29.50" y2="338.85" stroke="#111" stroke-width="0.9"/>
<text x="23.60" y="340.75" font-size="5.4" text-anchor="end" fill="#111" stroke="#111" stroke-width="0.2">5</text>
<line x1="26.50" y1="317.20" x2="29.50" y2="317.20" stroke="#111" stroke-width="0.9"/>
<text x="23.60" y="319.10" font-size="5.4" text-anchor="end" fill="#111" stroke="#111" stroke-width="0.2">10</text>
<line x1="26.50" y1="295.55" x2="29.50" y2="295.55" stroke="#111" stroke-width="0.9"/>
<text x="23.60" y="297.45" font-size="5.4" text-anchor="end" fill="#111" stroke="#111" stroke-width="0.2">15</text>
<line x1="26.50" y1="273.90" x2="29.50" y2="273.90" stroke="#111" stroke-width="0.9"/>
<text x="23.60" y="275.80" font-size="5.4" text-anchor="end" fill="#111" stroke="#111" stroke-width="0.2">20</text>
<line x1="26.50" y1="252.25" x2="29.50" y2="252.25" stroke="#111" stroke-width="0.9"/>
<text x="23.60" y="254.15" font-size="5.4" text-anchor="end" fill="#111" stroke="#111" stroke-width="0.2">25</text>
<line x1="26.50" y1="230.60" x2="29.50" y2="230.60" stroke="#111" stroke-width="0.9"/>
<text x="23.60" y="232.50" font-size="5.4" text-anchor="end" fill="#111" stroke="#111" stroke-width="0.2">30</text>
<line x1="26.50" y1="360.50" x2="256.60" y2="360.50" stroke="#111" stroke-width="0.9"/>
<rect x="194.80" y="234.40" width="4.7" height="4.2" fill="#a30d38"/>
<text x="202.50" y="238.30" font-size="5.3" fill="#161616" stroke="#161616" stroke-width="0.06">Substitution/Indel</text>
<rect x="194.80" y="239.70" width="4.7" height="4.2" fill="#7781b5"/>
<text x="202.50" y="243.60" font-size="5.3" fill="#161616" stroke="#161616" stroke-width="0.06">Amplification</text>
<rect x="194.80" y="245.00" width="4.7" height="4.2" fill="#ead29c"/>
<text x="202.50" y="248.90" font-size="5.3" fill="#161616" stroke="#161616" stroke-width="0.06">Homozygous deletion</text>
<rect x="194.80" y="250.30" width="4.7" height="4.2" fill="#cdd3a4"/>
<text x="202.50" y="254.20" font-size="5.3" fill="#161616" stroke="#161616" stroke-width="0.06">Rearrangement</text>
<rect x="194.80" y="255.60" width="4.7" height="4.2" fill="#3a1a4c"/>
<text x="202.50" y="259.50" font-size="5.3" fill="#161616" stroke="#161616" stroke-width="0.06">Truncation</text>
<text x="261.7" y="213.7" font-size="11.8" font-weight="bold" stroke="#000" stroke-width="0.25">D</text>
<text x="400.0" y="219.6" font-size="7.6" font-weight="bold" text-anchor="middle" stroke="#000" stroke-width="0.12">MM</text>
<text transform="translate(269.40 292.65) rotate(-90)" font-size="6.7" text-anchor="middle" fill="#1a1a1a" stroke="#1a1a1a" stroke-width="0.15">Percent of patients</text>
<rect x="286.20" y="239.70" width="2.60" height="121.20" fill="#7c0e2b"/>
<polygon points="287.50,234.95 288.02,236.29 289.45,236.37 288.34,237.27 288.70,238.66 287.50,237.88 286.30,238.66 286.66,237.27 285.55,236.37 286.98,236.29" fill="#28483c"/>
<polygon points="287.50,230.25 288.02,231.59 289.45,231.67 288.34,232.57 288.70,233.96 287.50,233.18 286.30,233.96 286.66,232.57 285.55,231.67 286.98,231.59" fill="#a08c55"/>
<line x1="287.50" y1="360.90" x2="287.50" y2="363.90" stroke="#111" stroke-width="0.85"/>
<text transform="translate(289.35 367.20) rotate(-90) scale(0.955 1)" font-size="5.20" text-anchor="end" fill="#0a0a0a" stroke="#0a0a0a" stroke-width="0.17">PIM1</text>
<rect x="290.75" y="259.50" width="2.60" height="101.40" fill="#7c0e2b"/>
<rect x="290.75" y="258.90" width="2.60" height="0.60" fill="#e4ba88"/>
<polygon points="292.05,253.25 292.57,254.59 294.00,254.67 292.89,255.57 293.25,256.96 292.05,256.18 290.85,256.96 291.21,255.57 290.10,254.67 291.53,254.59" fill="#28483c"/>
<polygon points="292.05,248.65 292.57,249.99 294.00,250.07 292.89,250.97 293.25,252.36 292.05,251.58 290.85,252.36 291.21,250.97 290.10,250.07 291.53,249.99" fill="#a08c55"/>
<line x1="292.05" y1="360.90" x2="292.05" y2="363.90" stroke="#111" stroke-width="0.85"/>
<text transform="translate(293.90 367.20) rotate(-90) scale(0.955 1)" font-size="5.20" text-anchor="end" fill="#0a0a0a" stroke="#0a0a0a" stroke-width="0.17">TAL1</text>
<rect x="295.30" y="291.40" width="2.60" height="69.50" fill="#7c0e2b"/>
<rect x="295.30" y="290.50" width="2.60" height="0.90" fill="#e4ba88"/>
<rect x="295.30" y="271.90" width="2.60" height="18.60" fill="#271238"/>
<polygon points="296.60,266.75 297.12,268.09 298.55,268.17 297.44,269.07 297.80,270.46 296.60,269.68 295.40,270.46 295.76,269.07 294.65,268.17 296.08,268.09" fill="#8f8fc2"/>
<line x1="296.60" y1="360.90" x2="296.60" y2="363.90" stroke="#111" stroke-width="0.85"/>
<text transform="translate(298.45 367.20) rotate(-90) scale(0.955 1)" font-size="5.20" text-anchor="end" fill="#0a0a0a" stroke="#0a0a0a" stroke-width="0.17">TP53</text>
<rect x="299.85" y="319.10" width="2.60" height="41.80" fill="#b0b98a"/>
<polygon points="301.15,313.75 301.67,315.09 303.10,315.17 301.99,316.07 302.35,317.46 301.15,316.68 299.95,317.46 300.31,316.07 299.20,315.17 300.63,315.09" fill="#8f8fc2"/>
<line x1="301.15" y1="360.90" x2="301.15" y2="363.90" stroke="#111" stroke-width="0.85"/>
<text transform="translate(303.00 367.20) rotate(-90) scale(0.955 1)" font-size="5.20" text-anchor="end" fill="#0a0a0a" stroke="#0a0a0a" stroke-width="0.17">WHSC1</text>
<rect x="304.40" y="356.00" width="2.60" height="4.90" fill="#7b82b8"/>
<rect x="304.40" y="325.50" width="2.60" height="30.50" fill="#b0b98a"/>
<polygon points="305.70,320.25 306.22,321.59 307.65,321.67 306.54,322.57 306.90,323.96 305.70,323.18 304.50,323.96 304.86,322.57 303.75,321.67 305.18,321.59" fill="#8f8fc2"/>
<polygon points="305.70,316.25 306.22,317.59 307.65,317.67 306.54,318.57 306.90,319.96 305.70,319.18 304.50,319.96 304.86,318.57 303.75,317.67 305.18,317.59" fill="#23315f"/>
<line x1="305.70" y1="360.90" x2="305.70" y2="363.90" stroke="#111" stroke-width="0.85"/>
<text transform="translate(307.55 367.20) rotate(-90) scale(0.955 1)" font-size="5.20" text-anchor="end" fill="#0a0a0a" stroke="#0a0a0a" stroke-width="0.17">CCND1</text>
<rect x="308.95" y="328.40" width="2.60" height="32.50" fill="#7c0e2b"/>
<polygon points="310.25,322.85 310.77,324.19 312.20,324.27 311.09,325.17 311.45,326.56 310.25,325.78 309.05,326.56 309.41,325.17 308.30,324.27 309.73,324.19" fill="#28483c"/>
<polygon points="310.25,318.05 310.77,319.39 312.20,319.47 311.09,320.37 311.45,321.76 310.25,320.98 309.05,321.76 309.41,320.37 308.30,319.47 309.73,319.39" fill="#a08c55"/>
<line x1="310.25" y1="360.90" x2="310.25" y2="363.90" stroke="#111" stroke-width="0.85"/>
<text transform="translate(312.10 367.20) rotate(-90) scale(0.955 1)" font-size="5.20" text-anchor="end" fill="#0a0a0a" stroke="#0a0a0a" stroke-width="0.17">CTCF</text>
<rect x="313.50" y="342.60" width="2.60" height="18.30" fill="#e4ba88"/>
<rect x="313.50" y="328.60" width="2.60" height="14.00" fill="#271238"/>
<polygon points="314.80,323.55 315.32,324.89 316.75,324.97 315.64,325.87 316.00,327.26 314.80,326.48 313.60,327.26 313.96,325.87 312.85,324.97 314.28,324.89" fill="#8f8fc2"/>
<line x1="314.80" y1="360.90" x2="314.80" y2="363.90" stroke="#111" stroke-width="0.85"/>
<text transform="translate(316.65 367.20) rotate(-90) scale(0.955 1)" font-size="5.20" text-anchor="end" fill="#0a0a0a" stroke="#0a0a0a" stroke-width="0.17">BRAF</text>
<rect x="318.05" y="348.20" width="2.60" height="12.70" fill="#e4ba88"/>
<rect x="318.05" y="333.80" width="2.60" height="14.40" fill="#271238"/>
<line x1="319.35" y1="360.90" x2="319.35" y2="363.90" stroke="#111" stroke-width="0.85"/>
<text transform="translate(321.20 367.20) rotate(-90) scale(0.955 1)" font-size="5.20" text-anchor="end" fill="#0a0a0a" stroke="#0a0a0a" stroke-width="0.17">ASXL1</text>
<rect x="322.60" y="338.10" width="2.60" height="22.80" fill="#e4ba88"/>
<rect x="322.60" y="334.80" width="2.60" height="3.30" fill="#271238"/>
<polygon points="323.90,329.55 324.42,330.89 325.85,330.97 324.74,331.87 325.10,333.26 323.90,332.48 322.70,333.26 323.06,331.87 321.95,330.97 323.38,330.89" fill="#8f8fc2"/>
<line x1="323.90" y1="360.90" x2="323.90" y2="363.90" stroke="#111" stroke-width="0.85"/>
<text transform="translate(325.75 367.20) rotate(-90) scale(0.955 1)" font-size="5.20" text-anchor="end" fill="#0a0a0a" stroke="#0a0a0a" stroke-width="0.17">CDKN2C</text>
<rect x="327.15" y="352.10" width="2.60" height="8.80" fill="#7c0e2b"/>
<rect x="327.15" y="340.90" width="2.60" height="11.20" fill="#271238"/>
<polygon points="328.45,335.95 328.97,337.29 330.40,337.37 329.29,338.27 329.65,339.66 328.45,338.88 327.25,339.66 327.61,338.27 326.50,337.37 327.93,337.29" fill="#28483c"/>
<polygon points="328.45,331.25 328.97,332.59 330.40,332.67 329.29,333.57 329.65,334.96 328.45,334.18 327.25,334.96 327.61,333.57 326.50,332.67 327.93,332.59" fill="#a08c55"/>
<polygon points="328.45,326.25 328.97,327.59 330.40,327.67 329.29,328.57 329.65,329.96 328.45,329.18 327.25,329.96 327.61,328.57 326.50,327.67 327.93,327.59" fill="#8f8fc2"/>
<line x1="328.45" y1="360.90" x2="328.45" y2="363.90" stroke="#111" stroke-width="0.85"/>
<text transform="translate(330.30 367.20) rotate(-90) scale(0.955 1)" font-size="5.20" text-anchor="end" fill="#0a0a0a" stroke="#0a0a0a" stroke-width="0.17">MYH11</text>
<rect x="331.70" y="351.60" width="2.60" height="9.30" fill="#7c0e2b"/>
<rect x="331.70" y="341.50" width="2.60" height="10.10" fill="#271238"/>
<polygon points="333.00,335.75 333.52,337.09 334.95,337.17 333.84,338.07 334.20,339.46 333.00,338.68 331.80,339.46 332.16,338.07 331.05,337.17 332.48,337.09" fill="#28483c"/>
<polygon points="333.00,330.75 333.52,332.09 334.95,332.17 333.84,333.07 334.20,334.46 333.00,333.68 331.80,334.46 332.16,333.07 331.05,332.17 332.48,332.09" fill="#a08c55"/>
<line x1="333.00" y1="360.90" x2="333.00" y2="363.90" stroke="#111" stroke-width="0.85"/>
<text transform="translate(334.85 367.20) rotate(-90) scale(0.955 1)" font-size="5.20" text-anchor="end" fill="#0a0a0a" stroke="#0a0a0a" stroke-width="0.17">TNFAIP3</text>
<rect x="336.25" y="355.50" width="2.60" height="5.40" fill="#7c0e2b"/>
<rect x="336.25" y="344.10" width="2.60" height="11.40" fill="#271238"/>
<line x1="337.55" y1="360.90" x2="337.55" y2="363.90" stroke="#111" stroke-width="0.85"/>
<text transform="translate(339.40 367.20) rotate(-90) scale(0.955 1)" font-size="5.20" text-anchor="end" fill="#0a0a0a" stroke="#0a0a0a" stroke-width="0.17">TRAF2</text>
<rect x="340.80" y="356.00" width="2.60" height="4.90" fill="#7c0e2b"/>
<rect x="340.80" y="344.10" width="2.60" height="11.90" fill="#271238"/>
<polygon points="342.10,338.55 342.62,339.89 344.05,339.97 342.94,340.87 343.30,342.26 342.10,341.48 340.90,342.26 341.26,340.87 340.15,339.97 341.58,339.89" fill="#28483c"/>
<polygon points="342.10,333.55 342.62,334.89 344.05,334.97 342.94,335.87 343.30,337.26 342.10,336.48 340.90,337.26 341.26,335.87 340.15,334.97 341.58,334.89" fill="#a08c55"/>
<line x1="342.10" y1="360.90" x2="342.10" y2="363.90" stroke="#111" stroke-width="0.85"/>
<text transform="translate(343.95 367.20) rotate(-90) scale(0.955 1)" font-size="5.20" text-anchor="end" fill="#0a0a0a" stroke="#0a0a0a" stroke-width="0.17">FAT1</text>
<rect x="345.35" y="346.70" width="2.60" height="14.20" fill="#271238"/>
<line x1="346.65" y1="360.90" x2="346.65" y2="363.90" stroke="#111" stroke-width="0.85"/>
<text transform="translate(348.50 367.20) rotate(-90) scale(0.955 1)" font-size="5.20" text-anchor="end" fill="#0a0a0a" stroke="#0a0a0a" stroke-width="0.17">ATM</text>
<rect x="349.90" y="348.50" width="2.60" height="12.40" fill="#e4ba88"/>
<rect x="349.90" y="347.20" width="2.60" height="1.30" fill="#271238"/>
<line x1="351.20" y1="360.90" x2="351.20" y2="363.90" stroke="#111" stroke-width="0.85"/>
<text transform="translate(353.05 367.20) rotate(-90) scale(0.955 1)" font-size="5.20" text-anchor="end" fill="#0a0a0a" stroke="#0a0a0a" stroke-width="0.17">LEF1</text>
<rect x="354.45" y="349.00" width="2.60" height="11.90" fill="#271238"/>
<line x1="355.75" y1="360.90" x2="355.75" y2="363.90" stroke="#111" stroke-width="0.85"/>
<text transform="translate(357.60 367.20) rotate(-90) scale(0.955 1)" font-size="5.20" text-anchor="end" fill="#0a0a0a" stroke="#0a0a0a" stroke-width="0.17">STAT3</text>
<rect x="359.00" y="349.20" width="2.60" height="11.70" fill="#e4ba88"/>
<line x1="360.30" y1="360.90" x2="360.30" y2="363.90" stroke="#111" stroke-width="0.85"/>
<text transform="translate(362.15 367.20) rotate(-90) scale(0.955 1)" font-size="5.20" text-anchor="end" fill="#0a0a0a" stroke="#0a0a0a" stroke-width="0.17">ATR</text>
<rect x="363.55" y="356.70" width="2.60" height="4.20" fill="#7c0e2b"/>
<rect x="363.55" y="355.50" width="2.60" height="1.20" fill="#e4ba88"/>
<rect x="363.55" y="349.20" width="2.60" height="6.30" fill="#271238"/>
<polygon points="364.85,342.75 365.37,344.09 366.80,344.17 365.69,345.07 366.05,346.46 364.85,345.68 363.65,346.46 364.01,345.07 362.90,344.17 364.33,344.09" fill="#a08c55"/>
<line x1="364.85" y1="360.90" x2="364.85" y2="363.90" stroke="#111" stroke-width="0.85"/>
<text transform="translate(366.70 367.20) rotate(-90) scale(0.955 1)" font-size="5.20" text-anchor="end" fill="#0a0a0a" stroke="#0a0a0a" stroke-width="0.17">CREBBP</text>
<rect x="368.10" y="350.40" width="2.60" height="10.50" fill="#271238"/>
<line x1="369.40" y1="360.90" x2="369.40" y2="363.90" stroke="#111" stroke-width="0.85"/>
<text transform="translate(371.25 367.20) rotate(-90) scale(0.955 1)" font-size="5.20" text-anchor="end" fill="#0a0a0a" stroke="#0a0a0a" stroke-width="0.17">CARD11</text>
<rect x="372.65" y="351.00" width="2.60" height="9.90" fill="#271238"/>
<line x1="373.95" y1="360.90" x2="373.95" y2="363.90" stroke="#111" stroke-width="0.85"/>
<text transform="translate(375.80 367.20) rotate(-90) scale(0.955 1)" font-size="5.20" text-anchor="end" fill="#0a0a0a" stroke="#0a0a0a" stroke-width="0.17">KLF2</text>
<rect x="377.20" y="351.50" width="2.60" height="9.40" fill="#271238"/>
<line x1="378.50" y1="360.90" x2="378.50" y2="363.90" stroke="#111" stroke-width="0.85"/>
<text transform="translate(380.35 367.20) rotate(-90) scale(0.955 1)" font-size="5.20" text-anchor="end" fill="#0a0a0a" stroke="#0a0a0a" stroke-width="0.17">FGFR3</text>
<rect x="381.75" y="352.10" width="2.60" height="8.80" fill="#7c0e2b"/>
<polygon points="383.05,346.65 383.57,347.99 385.00,348.07 383.89,348.97 384.25,350.36 383.05,349.58 381.85,350.36 382.21,348.97 381.10,348.07 382.53,347.99" fill="#28483c"/>
<polygon points="383.05,341.65 383.57,342.99 385.00,343.07 383.89,343.97 384.25,345.36 383.05,344.58 381.85,345.36 382.21,343.97 381.10,343.07 382.53,342.99" fill="#a08c55"/>
<line x1="383.05" y1="360.90" x2="383.05" y2="363.90" stroke="#111" stroke-width="0.85"/>
<text transform="translate(384.90 367.20) rotate(-90) scale(0.955 1)" font-size="5.20" text-anchor="end" fill="#0a0a0a" stroke="#0a0a0a" stroke-width="0.17">TLX1</text>
<rect x="386.30" y="352.10" width="2.60" height="8.80" fill="#b0b98a"/>
<polygon points="387.60,345.75 388.12,347.09 389.55,347.17 388.44,348.07 388.80,349.46 387.60,348.68 386.40,349.46 386.76,348.07 385.65,347.17 387.08,347.09" fill="#8f8fc2"/>
<line x1="387.60" y1="360.90" x2="387.60" y2="363.90" stroke="#111" stroke-width="0.85"/>
<text transform="translate(389.45 367.20) rotate(-90) scale(0.955 1)" font-size="5.20" text-anchor="end" fill="#0a0a0a" stroke="#0a0a0a" stroke-width="0.17">NF1</text>
<rect x="390.85" y="352.10" width="2.60" height="8.80" fill="#271238"/>
<line x1="392.15" y1="360.90" x2="392.15" y2="363.90" stroke="#111" stroke-width="0.85"/>
<text transform="translate(394.00 367.20) rotate(-90) scale(0.955 1)" font-size="5.20" text-anchor="end" fill="#0a0a0a" stroke="#0a0a0a" stroke-width="0.17">ASXL2</text>
<rect x="395.40" y="356.50" width="2.60" height="4.40" fill="#7c0e2b"/>
<rect x="395.40" y="352.10" width="2.60" height="4.40" fill="#e4ba88"/>
<polygon points="396.70,345.75 397.22,347.09 398.65,347.17 397.54,348.07 397.90,349.46 396.70,348.68 395.50,349.46 395.86,348.07 394.75,347.17 396.18,347.09" fill="#a08c55"/>
<line x1="396.70" y1="360.90" x2="396.70" y2="363.90" stroke="#111" stroke-width="0.85"/>
<text transform="translate(398.55 367.20) rotate(-90) scale(0.955 1)" font-size="5.20" text-anchor="end" fill="#0a0a0a" stroke="#0a0a0a" stroke-width="0.17">CDKN1B</text>
<rect x="399.95" y="356.00" width="2.60" height="4.90" fill="#7c0e2b"/>
<rect x="399.95" y="351.70" width="2.60" height="4.30" fill="#271238"/>
<line x1="401.25" y1="360.90" x2="401.25" y2="363.90" stroke="#111" stroke-width="0.85"/>
<text transform="translate(403.10 367.20) rotate(-90) scale(0.955 1)" font-size="5.20" text-anchor="end" fill="#0a0a0a" stroke="#0a0a0a" stroke-width="0.17">TLX3</text>
<rect x="404.50" y="352.30" width="2.60" height="8.60" fill="#271238"/>
<polygon points="405.80,347.25 406.32,348.59 407.75,348.67 406.64,349.57 407.00,350.96 405.80,350.18 404.60,350.96 404.96,349.57 403.85,348.67 405.28,348.59" fill="#28483c"/>
<polygon points="405.80,342.75 406.32,344.09 407.75,344.17 406.64,345.07 407.00,346.46 405.80,345.68 404.60,346.46 404.96,345.07 403.85,344.17 405.28,344.09" fill="#a08c55"/>
<line x1="405.80" y1="360.90" x2="405.80" y2="363.90" stroke="#111" stroke-width="0.85"/>
<text transform="translate(407.65 367.20) rotate(-90) scale(0.955 1)" font-size="5.20" text-anchor="end" fill="#0a0a0a" stroke="#0a0a0a" stroke-width="0.17">SP140</text>
<rect x="409.05" y="353.30" width="2.60" height="7.60" fill="#7c0e2b"/>
<line x1="410.35" y1="360.90" x2="410.35" y2="363.90" stroke="#111" stroke-width="0.85"/>
<text transform="translate(412.20 367.20) rotate(-90) scale(0.955 1)" font-size="5.20" text-anchor="end" fill="#0a0a0a" stroke="#0a0a0a" stroke-width="0.17">PIK3CA</text>
<rect x="413.60" y="354.50" width="2.60" height="6.40" fill="#b0b98a"/>
<rect x="413.60" y="353.30" width="2.60" height="1.20" fill="#271238"/>
<line x1="414.90" y1="360.90" x2="414.90" y2="363.90" stroke="#111" stroke-width="0.85"/>
<text transform="translate(416.75 367.20) rotate(-90) scale(0.955 1)" font-size="5.20" text-anchor="end" fill="#0a0a0a" stroke="#0a0a0a" stroke-width="0.17">RUNX1T1</text>
<rect x="418.15" y="353.90" width="2.60" height="7.00" fill="#271238"/>
<line x1="419.45" y1="360.90" x2="419.45" y2="363.90" stroke="#111" stroke-width="0.85"/>
<text transform="translate(421.30 367.20) rotate(-90) scale(0.955 1)" font-size="5.20" text-anchor="end" fill="#0a0a0a" stroke="#0a0a0a" stroke-width="0.17">PTEN</text>
<rect x="422.70" y="353.90" width="2.60" height="7.00" fill="#271238"/>
<line x1="424.00" y1="360.90" x2="424.00" y2="363.90" stroke="#111" stroke-width="0.85"/>
<text transform="translate(425.85 367.20) rotate(-90) scale(0.955 1)" font-size="5.20" text-anchor="end" fill="#0a0a0a" stroke="#0a0a0a" stroke-width="0.17">STAT6</text>
<rect x="427.25" y="356.00" width="2.60" height="4.90" fill="#7b82b8"/>
<rect x="427.25" y="353.90" width="2.60" height="2.10" fill="#271238"/>
<polygon points="428.55,348.45 429.07,349.79 430.50,349.87 429.39,350.77 429.75,352.16 428.55,351.38 427.35,352.16 427.71,350.77 426.60,349.87 428.03,349.79" fill="#a08c55"/>
<polygon points="428.55,343.85 429.07,345.19 430.50,345.27 429.39,346.17 429.75,347.56 428.55,346.78 427.35,347.56 427.71,346.17 426.60,345.27 428.03,345.19" fill="#8f8fc2"/>
<line x1="428.55" y1="360.90" x2="428.55" y2="363.90" stroke="#111" stroke-width="0.85"/>
<text transform="translate(430.40 367.20) rotate(-90) scale(0.955 1)" font-size="5.20" text-anchor="end" fill="#0a0a0a" stroke="#0a0a0a" stroke-width="0.17">CBFB</text>
<rect x="431.80" y="353.90" width="2.60" height="7.00" fill="#271238"/>
<line x1="433.10" y1="360.90" x2="433.10" y2="363.90" stroke="#111" stroke-width="0.85"/>
<text transform="translate(434.95 367.20) rotate(-90) scale(0.955 1)" font-size="5.20" text-anchor="end" fill="#0a0a0a" stroke="#0a0a0a" stroke-width="0.17">JAK2</text>
<rect x="436.35" y="354.00" width="2.60" height="6.90" fill="#7c0e2b"/>
<line x1="437.65" y1="360.90" x2="437.65" y2="363.90" stroke="#111" stroke-width="0.85"/>
<text transform="translate(439.50 367.20) rotate(-90) scale(0.955 1)" font-size="5.20" text-anchor="end" fill="#0a0a0a" stroke="#0a0a0a" stroke-width="0.17">JAK1</text>
<rect x="440.90" y="354.00" width="2.60" height="6.90" fill="#7b82b8"/>
<line x1="442.20" y1="360.90" x2="442.20" y2="363.90" stroke="#111" stroke-width="0.85"/>
<text transform="translate(444.05 367.20) rotate(-90) scale(0.955 1)" font-size="5.20" text-anchor="end" fill="#0a0a0a" stroke="#0a0a0a" stroke-width="0.17">MPL</text>
<rect x="445.45" y="357.00" width="2.60" height="3.90" fill="#7c0e2b"/>
<rect x="445.45" y="354.50" width="2.60" height="2.50" fill="#271238"/>
<line x1="446.75" y1="360.90" x2="446.75" y2="363.90" stroke="#111" stroke-width="0.85"/>
<text transform="translate(448.60 367.20) rotate(-90) scale(0.955 1)" font-size="5.20" text-anchor="end" fill="#0a0a0a" stroke="#0a0a0a" stroke-width="0.17">JAK3</text>
<rect x="450.00" y="355.20" width="2.60" height="5.70" fill="#271238"/>
<line x1="451.30" y1="360.90" x2="451.30" y2="363.90" stroke="#111" stroke-width="0.85"/>
<text transform="translate(453.15 367.20) rotate(-90) scale(0.955 1)" font-size="5.20" text-anchor="end" fill="#0a0a0a" stroke="#0a0a0a" stroke-width="0.17">ZFHX4</text>
<rect x="454.55" y="357.00" width="2.60" height="3.90" fill="#7c0e2b"/>
<rect x="454.55" y="355.20" width="2.60" height="1.80" fill="#271238"/>
<line x1="455.85" y1="360.90" x2="455.85" y2="363.90" stroke="#111" stroke-width="0.85"/>
<text transform="translate(457.70 367.20) rotate(-90) scale(0.955 1)" font-size="5.20" text-anchor="end" fill="#0a0a0a" stroke="#0a0a0a" stroke-width="0.17">ARID2</text>
<rect x="459.10" y="355.20" width="2.60" height="5.70" fill="#7c0e2b"/>
<line x1="460.40" y1="360.90" x2="460.40" y2="363.90" stroke="#111" stroke-width="0.85"/>
<text transform="translate(462.25 367.20) rotate(-90) scale(0.955 1)" font-size="5.20" text-anchor="end" fill="#0a0a0a" stroke="#0a0a0a" stroke-width="0.17">B2M</text>
<rect x="463.65" y="355.20" width="2.60" height="5.70" fill="#7c0e2b"/>
<polygon points="464.95,349.75 465.47,351.09 466.90,351.17 465.79,352.07 466.15,353.46 464.95,352.68 463.75,353.46 464.11,352.07 463.00,351.17 464.43,351.09" fill="#a08c55"/>
<line x1="464.95" y1="360.90" x2="464.95" y2="363.90" stroke="#111" stroke-width="0.85"/>
<text transform="translate(466.80 367.20) rotate(-90) scale(0.955 1)" font-size="5.20" text-anchor="end" fill="#0a0a0a" stroke="#0a0a0a" stroke-width="0.17">MYC</text>
<rect x="468.20" y="355.20" width="2.60" height="5.70" fill="#271238"/>
<line x1="469.50" y1="360.90" x2="469.50" y2="363.90" stroke="#111" stroke-width="0.85"/>
<text transform="translate(471.35 367.20) rotate(-90) scale(0.955 1)" font-size="5.20" text-anchor="end" fill="#0a0a0a" stroke="#0a0a0a" stroke-width="0.17">SPOP</text>
<rect x="472.75" y="355.20" width="2.60" height="5.70" fill="#e4ba88"/>
<line x1="474.05" y1="360.90" x2="474.05" y2="363.90" stroke="#111" stroke-width="0.85"/>
<text transform="translate(475.90 367.20) rotate(-90) scale(0.955 1)" font-size="5.20" text-anchor="end" fill="#0a0a0a" stroke="#0a0a0a" stroke-width="0.17">FAM46C</text>
<rect x="477.30" y="355.20" width="2.60" height="5.70" fill="#7c0e2b"/>
<polygon points="478.60,349.75 479.12,351.09 480.55,351.17 479.44,352.07 479.80,353.46 478.60,352.68 477.40,353.46 477.76,352.07 476.65,351.17 478.08,351.09" fill="#a08c55"/>
<line x1="478.60" y1="360.90" x2="478.60" y2="363.90" stroke="#111" stroke-width="0.85"/>
<text transform="translate(480.45 367.20) rotate(-90) scale(0.955 1)" font-size="5.20" text-anchor="end" fill="#0a0a0a" stroke="#0a0a0a" stroke-width="0.17">VAV1</text>
<rect x="481.85" y="355.20" width="2.60" height="5.70" fill="#271238"/>
<line x1="483.15" y1="360.90" x2="483.15" y2="363.90" stroke="#111" stroke-width="0.85"/>
<text transform="translate(485.00 367.20) rotate(-90) scale(0.955 1)" font-size="5.20" text-anchor="end" fill="#0a0a0a" stroke="#0a0a0a" stroke-width="0.17">BIRC3</text>
<rect x="486.40" y="355.20" width="2.60" height="5.70" fill="#7c0e2b"/>
<line x1="487.70" y1="360.90" x2="487.70" y2="363.90" stroke="#111" stroke-width="0.85"/>
<text transform="translate(489.55 367.20) rotate(-90) scale(0.955 1)" font-size="5.20" text-anchor="end" fill="#0a0a0a" stroke="#0a0a0a" stroke-width="0.17">PML</text>
<rect x="490.95" y="355.20" width="2.60" height="5.70" fill="#7c0e2b"/>
<line x1="492.25" y1="360.90" x2="492.25" y2="363.90" stroke="#111" stroke-width="0.85"/>
<text transform="translate(494.10 367.20) rotate(-90) scale(0.955 1)" font-size="5.20" text-anchor="end" fill="#0a0a0a" stroke="#0a0a0a" stroke-width="0.17">FGFR1</text>
<rect x="495.50" y="355.20" width="2.60" height="5.70" fill="#7c0e2b"/>
<polygon points="496.80,350.55 497.32,351.89 498.75,351.97 497.64,352.87 498.00,354.26 496.80,353.48 495.60,354.26 495.96,352.87 494.85,351.97 496.28,351.89" fill="#28483c"/>
<polygon points="496.80,346.15 497.32,347.49 498.75,347.57 497.64,348.47 498.00,349.86 496.80,349.08 495.60,349.86 495.96,348.47 494.85,347.57 496.28,347.49" fill="#a08c55"/>
<line x1="496.80" y1="360.90" x2="496.80" y2="363.90" stroke="#111" stroke-width="0.85"/>
<text transform="translate(498.65 367.20) rotate(-90) scale(0.955 1)" font-size="5.20" text-anchor="end" fill="#0a0a0a" stroke="#0a0a0a" stroke-width="0.17">IDH1</text>
<rect x="500.05" y="355.20" width="2.60" height="5.70" fill="#7c0e2b"/>
<polygon points="501.35,350.55 501.87,351.89 503.30,351.97 502.19,352.87 502.55,354.26 501.35,353.48 500.15,354.26 500.51,352.87 499.40,351.97 500.83,351.89" fill="#28483c"/>
<polygon points="501.35,346.15 501.87,347.49 503.30,347.57 502.19,348.47 502.55,349.86 501.35,349.08 500.15,349.86 500.51,348.47 499.40,347.57 500.83,347.49" fill="#a08c55"/>
<line x1="501.35" y1="360.90" x2="501.35" y2="363.90" stroke="#111" stroke-width="0.85"/>
<text transform="translate(503.20 367.20) rotate(-90) scale(0.955 1)" font-size="5.20" text-anchor="end" fill="#0a0a0a" stroke="#0a0a0a" stroke-width="0.17">EED</text>
<rect x="504.60" y="355.20" width="2.60" height="5.70" fill="#7c0e2b"/>
<line x1="505.90" y1="360.90" x2="505.90" y2="363.90" stroke="#111" stroke-width="0.85"/>
<text transform="translate(507.75 367.20) rotate(-90) scale(0.955 1)" font-size="5.20" text-anchor="end" fill="#0a0a0a" stroke="#0a0a0a" stroke-width="0.17">MLH1</text>
<rect x="509.15" y="355.20" width="2.60" height="5.70" fill="#7c0e2b"/>
<line x1="510.45" y1="360.90" x2="510.45" y2="363.90" stroke="#111" stroke-width="0.85"/>
<text transform="translate(512.30 367.20) rotate(-90) scale(0.955 1)" font-size="5.20" text-anchor="end" fill="#0a0a0a" stroke="#0a0a0a" stroke-width="0.17">APC</text>
<line x1="286.40" y1="225.20" x2="286.40" y2="360.90" stroke="#111" stroke-width="0.9"/>
<line x1="283.40" y1="360.90" x2="286.40" y2="360.90" stroke="#111" stroke-width="0.9"/>
<text x="280.50" y="362.80" font-size="5.4" text-anchor="end" fill="#111" stroke="#111" stroke-width="0.2">0</text>
<line x1="283.40" y1="338.80" x2="286.40" y2="338.80" stroke="#111" stroke-width="0.9"/>
<text x="280.50" y="340.70" font-size="5.4" text-anchor="end" fill="#111" stroke="#111" stroke-width="0.2">5</text>
<line x1="283.40" y1="316.70" x2="286.40" y2="316.70" stroke="#111" stroke-width="0.9"/>
<text x="280.50" y="318.60" font-size="5.4" text-anchor="end" fill="#111" stroke="#111" stroke-width="0.2">10</text>
<line x1="283.40" y1="294.60" x2="286.40" y2="294.60" stroke="#111" stroke-width="0.9"/>
<text x="280.50" y="296.50" font-size="5.4" text-anchor="end" fill="#111" stroke="#111" stroke-width="0.2">15</text>
<line x1="283.40" y1="272.50" x2="286.40" y2="272.50" stroke="#111" stroke-width="0.9"/>
<text x="280.50" y="274.40" font-size="5.4" text-anchor="end" fill="#111" stroke="#111" stroke-width="0.2">20</text>
<line x1="283.40" y1="250.40" x2="286.40" y2="250.40" stroke="#111" stroke-width="0.9"/>
<text x="280.50" y="252.30" font-size="5.4" text-anchor="end" fill="#111" stroke="#111" stroke-width="0.2">25</text>
<line x1="283.40" y1="228.30" x2="286.40" y2="228.30" stroke="#111" stroke-width="0.9"/>
<text x="280.50" y="230.20" font-size="5.4" text-anchor="end" fill="#111" stroke="#111" stroke-width="0.2">30</text>
<line x1="283.40" y1="360.90" x2="513.50" y2="360.90" stroke="#111" stroke-width="0.9"/>
<rect x="452.00" y="234.50" width="4.7" height="4.2" fill="#a30d38"/>
<text x="459.70" y="238.40" font-size="5.3" fill="#161616" stroke="#161616" stroke-width="0.06">Substitution/Indel</text>
<rect x="452.00" y="239.80" width="4.7" height="4.2" fill="#7781b5"/>
<text x="459.70" y="243.70" font-size="5.3" fill="#161616" stroke="#161616" stroke-width="0.06">Amplification</text>
<rect x="452.00" y="245.10" width="4.7" height="4.2" fill="#ead29c"/>
<text x="459.70" y="249.00" font-size="5.3" fill="#161616" stroke="#161616" stroke-width="0.06">Homozygous deletion</text>
<rect x="452.00" y="250.40" width="4.7" height="4.2" fill="#cdd3a4"/>
<text x="459.70" y="254.30" font-size="5.3" fill="#161616" stroke="#161616" stroke-width="0.06">Rearrangement</text>
<rect x="452.00" y="255.70" width="4.7" height="4.2" fill="#3a1a4c"/>
<text x="459.70" y="259.60" font-size="5.3" fill="#161616" stroke="#161616" stroke-width="0.06">Truncation</text>
<text x="5.3" y="411.9" font-size="11.8" font-weight="bold" stroke="#000" stroke-width="0.25">E</text>
<text x="143.4" y="417.9" font-size="7.6" font-weight="bold" text-anchor="middle" stroke="#000" stroke-width="0.12">NHL</text>
<text transform="translate(12.10 484.65) rotate(-90)" font-size="6.7" text-anchor="middle" fill="#1a1a1a" stroke="#1a1a1a" stroke-width="0.15">Percent of patients</text>
<rect x="29.20" y="429.80" width="2.60" height="113.80" fill="#271238"/>
<polygon points="30.50,424.35 31.02,425.69 32.45,425.77 31.34,426.67 31.70,428.06 30.50,427.28 29.30,428.06 29.66,426.67 28.55,425.77 29.98,425.69" fill="#a08c55"/>
<line x1="30.50" y1="543.60" x2="30.50" y2="546.60" stroke="#111" stroke-width="0.85"/>
<text transform="translate(32.35 549.90) rotate(-90) scale(0.955 1)" font-size="5.20" text-anchor="end" fill="#0a0a0a" stroke="#0a0a0a" stroke-width="0.17">MLL2</text>
<rect x="33.75" y="498.70" width="2.60" height="44.90" fill="#7c0e2b"/>
<rect x="33.75" y="444.50" width="2.60" height="54.20" fill="#b0b98a"/>
<polygon points="35.05,440.45 35.57,441.79 37.00,441.87 35.89,442.77 36.25,444.16 35.05,443.38 33.85,444.16 34.21,442.77 33.10,441.87 34.53,441.79" fill="#8f8fc2"/>
<polygon points="35.05,436.75 35.57,438.09 37.00,438.17 35.89,439.07 36.25,440.46 35.05,439.68 33.85,440.46 34.21,439.07 33.10,438.17 34.53,438.09" fill="#23315f"/>
<line x1="35.05" y1="543.60" x2="35.05" y2="546.60" stroke="#111" stroke-width="0.85"/>
<text transform="translate(36.90 549.90) rotate(-90) scale(0.955 1)" font-size="5.20" text-anchor="end" fill="#0a0a0a" stroke="#0a0a0a" stroke-width="0.17">TP53</text>
<rect x="38.30" y="468.90" width="2.60" height="74.70" fill="#7c0e2b"/>
<rect x="38.30" y="448.40" width="2.60" height="20.50" fill="#271238"/>
<polygon points="39.60,443.45 40.12,444.79 41.55,444.87 40.44,445.77 40.80,447.16 39.60,446.38 38.40,447.16 38.76,445.77 37.65,444.87 39.08,444.79" fill="#8f8fc2"/>
<line x1="39.60" y1="543.60" x2="39.60" y2="546.60" stroke="#111" stroke-width="0.85"/>
<text transform="translate(41.45 549.90) rotate(-90) scale(0.955 1)" font-size="5.20" text-anchor="end" fill="#0a0a0a" stroke="#0a0a0a" stroke-width="0.17">TCF3</text>
<rect x="42.85" y="470.70" width="2.60" height="72.90" fill="#e4ba88"/>
<rect x="42.85" y="463.30" width="2.60" height="7.40" fill="#271238"/>
<polygon points="44.15,457.55 44.67,458.89 46.10,458.97 44.99,459.87 45.35,461.26 44.15,460.48 42.95,461.26 43.31,459.87 42.20,458.97 43.63,458.89" fill="#a08c55"/>
<line x1="44.15" y1="543.60" x2="44.15" y2="546.60" stroke="#111" stroke-width="0.85"/>
<text transform="translate(46.00 549.90) rotate(-90) scale(0.955 1)" font-size="5.20" text-anchor="end" fill="#0a0a0a" stroke="#0a0a0a" stroke-width="0.17">CDKN2A</text>
<rect x="47.40" y="512.30" width="2.60" height="31.30" fill="#7c0e2b"/>
<rect x="47.40" y="481.10" width="2.60" height="31.20" fill="#271238"/>
<polygon points="48.70,475.95 49.22,477.29 50.65,477.37 49.54,478.27 49.90,479.66 48.70,478.88 47.50,479.66 47.86,478.27 46.75,477.37 48.18,477.29" fill="#a08c55"/>
<line x1="48.70" y1="543.60" x2="48.70" y2="546.60" stroke="#111" stroke-width="0.85"/>
<text transform="translate(50.55 549.90) rotate(-90) scale(0.955 1)" font-size="5.20" text-anchor="end" fill="#0a0a0a" stroke="#0a0a0a" stroke-width="0.17">CREBBP</text>
<rect x="51.95" y="489.70" width="2.60" height="53.90" fill="#e4ba88"/>
<polygon points="53.25,484.45 53.77,485.79 55.20,485.87 54.09,486.77 54.45,488.16 53.25,487.38 52.05,488.16 52.41,486.77 51.30,485.87 52.73,485.79" fill="#a08c55"/>
<line x1="53.25" y1="543.60" x2="53.25" y2="546.60" stroke="#111" stroke-width="0.85"/>
<text transform="translate(55.10 549.90) rotate(-90) scale(0.955 1)" font-size="5.20" text-anchor="end" fill="#0a0a0a" stroke="#0a0a0a" stroke-width="0.17">TNFAIP3</text>
<rect x="56.50" y="535.00" width="2.60" height="8.60" fill="#e4ba88"/>
<rect x="56.50" y="495.00" width="2.60" height="40.00" fill="#271238"/>
<line x1="57.80" y1="543.60" x2="57.80" y2="546.60" stroke="#111" stroke-width="0.85"/>
<text transform="translate(59.65 549.90) rotate(-90) scale(0.955 1)" font-size="5.20" text-anchor="end" fill="#0a0a0a" stroke="#0a0a0a" stroke-width="0.17">PTPN11</text>
<rect x="61.05" y="498.80" width="2.60" height="44.80" fill="#7c0e2b"/>
<polygon points="62.35,493.45 62.87,494.79 64.30,494.87 63.19,495.77 63.55,497.16 62.35,496.38 61.15,497.16 61.51,495.77 60.40,494.87 61.83,494.79" fill="#28483c"/>
<polygon points="62.35,488.75 62.87,490.09 64.30,490.17 63.19,491.07 63.55,492.46 62.35,491.68 61.15,492.46 61.51,491.07 60.40,490.17 61.83,490.09" fill="#a08c55"/>
<line x1="62.35" y1="543.60" x2="62.35" y2="546.60" stroke="#111" stroke-width="0.85"/>
<text transform="translate(64.20 549.90) rotate(-90) scale(0.955 1)" font-size="5.20" text-anchor="end" fill="#0a0a0a" stroke="#0a0a0a" stroke-width="0.17">SOCS1</text>
<rect x="65.60" y="499.80" width="2.60" height="43.80" fill="#b0b98a"/>
<polygon points="66.90,494.95 67.42,496.29 68.85,496.37 67.74,497.27 68.10,498.66 66.90,497.88 65.70,498.66 66.06,497.27 64.95,496.37 66.38,496.29" fill="#8f8fc2"/>
<polygon points="66.90,490.65 67.42,491.99 68.85,492.07 67.74,492.97 68.10,494.36 66.90,493.58 65.70,494.36 66.06,492.97 64.95,492.07 66.38,491.99" fill="#23315f"/>
<line x1="66.90" y1="543.60" x2="66.90" y2="546.60" stroke="#111" stroke-width="0.85"/>
<text transform="translate(68.75 549.90) rotate(-90) scale(0.955 1)" font-size="5.20" text-anchor="end" fill="#0a0a0a" stroke="#0a0a0a" stroke-width="0.17">BCL6</text>
<rect x="70.15" y="534.10" width="2.60" height="9.50" fill="#7c0e2b"/>
<rect x="70.15" y="505.30" width="2.60" height="28.80" fill="#271238"/>
<line x1="71.45" y1="543.60" x2="71.45" y2="546.60" stroke="#111" stroke-width="0.85"/>
<text transform="translate(73.30 549.90) rotate(-90) scale(0.955 1)" font-size="5.20" text-anchor="end" fill="#0a0a0a" stroke="#0a0a0a" stroke-width="0.17">EVI1</text>
<rect x="74.70" y="534.00" width="2.60" height="9.60" fill="#e4ba88"/>
<rect x="74.70" y="505.30" width="2.60" height="28.70" fill="#271238"/>
<line x1="76.00" y1="543.60" x2="76.00" y2="546.60" stroke="#111" stroke-width="0.85"/>
<text transform="translate(77.85 549.90) rotate(-90) scale(0.955 1)" font-size="5.20" text-anchor="end" fill="#0a0a0a" stroke="#0a0a0a" stroke-width="0.17">RUNX1T1</text>
<rect x="79.25" y="506.20" width="2.60" height="37.40" fill="#271238"/>
<line x1="80.55" y1="543.60" x2="80.55" y2="546.60" stroke="#111" stroke-width="0.85"/>
<text transform="translate(82.40 549.90) rotate(-90) scale(0.955 1)" font-size="5.20" text-anchor="end" fill="#0a0a0a" stroke="#0a0a0a" stroke-width="0.17">SOCS3</text>
<rect x="83.80" y="535.60" width="2.60" height="8.00" fill="#7c0e2b"/>
<rect x="83.80" y="510.80" width="2.60" height="24.80" fill="#b0b98a"/>
<polygon points="85.10,505.95 85.62,507.29 87.05,507.37 85.94,508.27 86.30,509.66 85.10,508.88 83.90,509.66 84.26,508.27 83.15,507.37 84.58,507.29" fill="#a08c55"/>
<polygon points="85.10,501.95 85.62,503.29 87.05,503.37 85.94,504.27 86.30,505.66 85.10,504.88 83.90,505.66 84.26,504.27 83.15,503.37 84.58,503.29" fill="#23315f"/>
<line x1="85.10" y1="543.60" x2="85.10" y2="546.60" stroke="#111" stroke-width="0.85"/>
<text transform="translate(86.95 549.90) rotate(-90) scale(0.955 1)" font-size="5.20" text-anchor="end" fill="#0a0a0a" stroke="#0a0a0a" stroke-width="0.17">TCF4</text>
<rect x="88.35" y="514.20" width="2.60" height="29.40" fill="#271238"/>
<polygon points="89.65,508.95 90.17,510.29 91.60,510.37 90.49,511.27 90.85,512.66 89.65,511.88 88.45,512.66 88.81,511.27 87.70,510.37 89.13,510.29" fill="#28483c"/>
<polygon points="89.65,504.45 90.17,505.79 91.60,505.87 90.49,506.77 90.85,508.16 89.65,507.38 88.45,508.16 88.81,506.77 87.70,505.87 89.13,505.79" fill="#a08c55"/>
<line x1="89.65" y1="543.60" x2="89.65" y2="546.60" stroke="#111" stroke-width="0.85"/>
<text transform="translate(91.50 549.90) rotate(-90) scale(0.955 1)" font-size="5.20" text-anchor="end" fill="#0a0a0a" stroke="#0a0a0a" stroke-width="0.17">USP7</text>
<rect x="92.90" y="513.70" width="2.60" height="29.90" fill="#7c0e2b"/>
<polygon points="94.20,508.45 94.72,509.79 96.15,509.87 95.04,510.77 95.40,512.16 94.20,511.38 93.00,512.16 93.36,510.77 92.25,509.87 93.68,509.79" fill="#a08c55"/>
<line x1="94.20" y1="543.60" x2="94.20" y2="546.60" stroke="#111" stroke-width="0.85"/>
<text transform="translate(96.05 549.90) rotate(-90) scale(0.955 1)" font-size="5.20" text-anchor="end" fill="#0a0a0a" stroke="#0a0a0a" stroke-width="0.17">ETV6</text>
<rect x="97.45" y="517.50" width="2.60" height="26.10" fill="#b0b98a"/>
<polygon points="98.75,512.45 99.27,513.79 100.70,513.87 99.59,514.77 99.95,516.16 98.75,515.38 97.55,516.16 97.91,514.77 96.80,513.87 98.23,513.79" fill="#a08c55"/>
<polygon points="98.75,508.25 99.27,509.59 100.70,509.67 99.59,510.57 99.95,511.96 98.75,511.18 97.55,511.96 97.91,510.57 96.80,509.67 98.23,509.59" fill="#23315f"/>
<line x1="98.75" y1="543.60" x2="98.75" y2="546.60" stroke="#111" stroke-width="0.85"/>
<text transform="translate(100.60 549.90) rotate(-90) scale(0.955 1)" font-size="5.20" text-anchor="end" fill="#0a0a0a" stroke="#0a0a0a" stroke-width="0.17">HOXA9</text>
<rect x="102.00" y="533.30" width="2.60" height="10.30" fill="#7c0e2b"/>
<rect x="102.00" y="518.30" width="2.60" height="15.00" fill="#271238"/>
<polygon points="103.30,512.95 103.82,514.29 105.25,514.37 104.14,515.27 104.50,516.66 103.30,515.88 102.10,516.66 102.46,515.27 101.35,514.37 102.78,514.29" fill="#a08c55"/>
<line x1="103.30" y1="543.60" x2="103.30" y2="546.60" stroke="#111" stroke-width="0.85"/>
<text transform="translate(105.15 549.90) rotate(-90) scale(0.955 1)" font-size="5.20" text-anchor="end" fill="#0a0a0a" stroke="#0a0a0a" stroke-width="0.17">B2M</text>
<rect x="106.55" y="520.60" width="2.60" height="23.00" fill="#7c0e2b"/>
<polygon points="107.85,514.45 108.37,515.79 109.80,515.87 108.69,516.77 109.05,518.16 107.85,517.38 106.65,518.16 107.01,516.77 105.90,515.87 107.33,515.79" fill="#a08c55"/>
<line x1="107.85" y1="543.60" x2="107.85" y2="546.60" stroke="#111" stroke-width="0.85"/>
<text transform="translate(109.70 549.90) rotate(-90) scale(0.955 1)" font-size="5.20" text-anchor="end" fill="#0a0a0a" stroke="#0a0a0a" stroke-width="0.17">ACVR1B</text>
<rect x="111.10" y="535.00" width="2.60" height="8.60" fill="#e4ba88"/>
<rect x="111.10" y="523.50" width="2.60" height="11.50" fill="#271238"/>
<line x1="112.40" y1="543.60" x2="112.40" y2="546.60" stroke="#111" stroke-width="0.85"/>
<text transform="translate(114.25 549.90) rotate(-90) scale(0.955 1)" font-size="5.20" text-anchor="end" fill="#0a0a0a" stroke="#0a0a0a" stroke-width="0.17">MYB</text>
<rect x="115.65" y="524.60" width="2.60" height="19.00" fill="#7c0e2b"/>
<polygon points="116.95,519.15 117.47,520.49 118.90,520.57 117.79,521.47 118.15,522.86 116.95,522.08 115.75,522.86 116.11,521.47 115.00,520.57 116.43,520.49" fill="#28483c"/>
<polygon points="116.95,514.75 117.47,516.09 118.90,516.17 117.79,517.07 118.15,518.46 116.95,517.68 115.75,518.46 116.11,517.07 115.00,516.17 116.43,516.09" fill="#a08c55"/>
<line x1="116.95" y1="543.60" x2="116.95" y2="546.60" stroke="#111" stroke-width="0.85"/>
<text transform="translate(118.80 549.90) rotate(-90) scale(0.955 1)" font-size="5.20" text-anchor="end" fill="#0a0a0a" stroke="#0a0a0a" stroke-width="0.17">CIITA</text>
<rect x="120.20" y="541.00" width="2.60" height="2.60" fill="#7c0e2b"/>
<rect x="120.20" y="537.90" width="2.60" height="3.10" fill="#e4ba88"/>
<rect x="120.20" y="526.30" width="2.60" height="11.60" fill="#271238"/>
<line x1="121.50" y1="543.60" x2="121.50" y2="546.60" stroke="#111" stroke-width="0.85"/>
<text transform="translate(123.35 549.90) rotate(-90) scale(0.955 1)" font-size="5.20" text-anchor="end" fill="#0a0a0a" stroke="#0a0a0a" stroke-width="0.17">PDGFRA</text>
<rect x="124.75" y="528.10" width="2.60" height="15.50" fill="#b0b98a"/>
<polygon points="126.05,522.95 126.57,524.29 128.00,524.37 126.89,525.27 127.25,526.66 126.05,525.88 124.85,526.66 125.21,525.27 124.10,524.37 125.53,524.29" fill="#8f8fc2"/>
<line x1="126.05" y1="543.60" x2="126.05" y2="546.60" stroke="#111" stroke-width="0.85"/>
<text transform="translate(127.90 549.90) rotate(-90) scale(0.955 1)" font-size="5.20" text-anchor="end" fill="#0a0a0a" stroke="#0a0a0a" stroke-width="0.17">PIM1</text>
<rect x="129.30" y="528.70" width="2.60" height="14.90" fill="#271238"/>
<line x1="130.60" y1="543.60" x2="130.60" y2="546.60" stroke="#111" stroke-width="0.85"/>
<text transform="translate(132.45 549.90) rotate(-90) scale(0.955 1)" font-size="5.20" text-anchor="end" fill="#0a0a0a" stroke="#0a0a0a" stroke-width="0.17">BCL10</text>
<rect x="133.85" y="528.70" width="2.60" height="14.90" fill="#271238"/>
<line x1="135.15" y1="543.60" x2="135.15" y2="546.60" stroke="#111" stroke-width="0.85"/>
<text transform="translate(137.00 549.90) rotate(-90) scale(0.955 1)" font-size="5.20" text-anchor="end" fill="#0a0a0a" stroke="#0a0a0a" stroke-width="0.17">RET</text>
<rect x="138.40" y="528.70" width="2.60" height="14.90" fill="#271238"/>
<polygon points="139.70,523.55 140.22,524.89 141.65,524.97 140.54,525.87 140.90,527.26 139.70,526.48 138.50,527.26 138.86,525.87 137.75,524.97 139.18,524.89" fill="#8f8fc2"/>
<polygon points="139.70,518.95 140.22,520.29 141.65,520.37 140.54,521.27 140.90,522.66 139.70,521.88 138.50,522.66 138.86,521.27 137.75,520.37 139.18,520.29" fill="#23315f"/>
<line x1="139.70" y1="543.60" x2="139.70" y2="546.60" stroke="#111" stroke-width="0.85"/>
<text transform="translate(141.55 549.90) rotate(-90) scale(0.955 1)" font-size="5.20" text-anchor="end" fill="#0a0a0a" stroke="#0a0a0a" stroke-width="0.17">U2AF1</text>
<rect x="142.95" y="529.20" width="2.60" height="14.40" fill="#271238"/>
<line x1="144.25" y1="543.60" x2="144.25" y2="546.60" stroke="#111" stroke-width="0.85"/>
<text transform="translate(146.10 549.90) rotate(-90) scale(0.955 1)" font-size="5.20" text-anchor="end" fill="#0a0a0a" stroke="#0a0a0a" stroke-width="0.17">AKT1</text>
<rect x="147.50" y="536.00" width="2.60" height="7.60" fill="#7c0e2b"/>
<rect x="147.50" y="529.20" width="2.60" height="6.80" fill="#271238"/>
<line x1="148.80" y1="543.60" x2="148.80" y2="546.60" stroke="#111" stroke-width="0.85"/>
<text transform="translate(150.65 549.90) rotate(-90) scale(0.955 1)" font-size="5.20" text-anchor="end" fill="#0a0a0a" stroke="#0a0a0a" stroke-width="0.17">STAT6</text>
<rect x="152.05" y="528.70" width="2.60" height="14.90" fill="#7c0e2b"/>
<polygon points="153.35,523.45 153.87,524.79 155.30,524.87 154.19,525.77 154.55,527.16 153.35,526.38 152.15,527.16 152.51,525.77 151.40,524.87 152.83,524.79" fill="#28483c"/>
<polygon points="153.35,519.15 153.87,520.49 155.30,520.57 154.19,521.47 154.55,522.86 153.35,522.08 152.15,522.86 152.51,521.47 151.40,520.57 152.83,520.49" fill="#a08c55"/>
<line x1="153.35" y1="543.60" x2="153.35" y2="546.60" stroke="#111" stroke-width="0.85"/>
<text transform="translate(155.20 549.90) rotate(-90) scale(0.955 1)" font-size="5.20" text-anchor="end" fill="#0a0a0a" stroke="#0a0a0a" stroke-width="0.17">HES1</text>
<rect x="156.60" y="529.20" width="2.60" height="14.40" fill="#271238"/>
<line x1="157.90" y1="543.60" x2="157.90" y2="546.60" stroke="#111" stroke-width="0.85"/>
<text transform="translate(159.75 549.90) rotate(-90) scale(0.955 1)" font-size="5.20" text-anchor="end" fill="#0a0a0a" stroke="#0a0a0a" stroke-width="0.17">PTEN</text>
<rect x="161.15" y="536.00" width="2.60" height="7.60" fill="#7c0e2b"/>
<rect x="161.15" y="529.20" width="2.60" height="6.80" fill="#271238"/>
<line x1="162.45" y1="543.60" x2="162.45" y2="546.60" stroke="#111" stroke-width="0.85"/>
<text transform="translate(164.30 549.90) rotate(-90) scale(0.955 1)" font-size="5.20" text-anchor="end" fill="#0a0a0a" stroke="#0a0a0a" stroke-width="0.17">MAX</text>
<rect x="165.70" y="529.20" width="2.60" height="14.40" fill="#7c0e2b"/>
<line x1="167.00" y1="543.60" x2="167.00" y2="546.60" stroke="#111" stroke-width="0.85"/>
<text transform="translate(168.85 549.90) rotate(-90) scale(0.955 1)" font-size="5.20" text-anchor="end" fill="#0a0a0a" stroke="#0a0a0a" stroke-width="0.17">AKT2</text>
<rect x="170.25" y="531.00" width="2.60" height="12.60" fill="#7c0e2b"/>
<line x1="171.55" y1="543.60" x2="171.55" y2="546.60" stroke="#111" stroke-width="0.85"/>
<text transform="translate(173.40 549.90) rotate(-90) scale(0.955 1)" font-size="5.20" text-anchor="end" fill="#0a0a0a" stroke="#0a0a0a" stroke-width="0.17">SOCS2</text>
<rect x="174.80" y="538.50" width="2.60" height="5.10" fill="#b0b98a"/>
<rect x="174.80" y="531.00" width="2.60" height="7.50" fill="#271238"/>
<line x1="176.10" y1="543.60" x2="176.10" y2="546.60" stroke="#111" stroke-width="0.85"/>
<text transform="translate(177.95 549.90) rotate(-90) scale(0.955 1)" font-size="5.20" text-anchor="end" fill="#0a0a0a" stroke="#0a0a0a" stroke-width="0.17">IRF4</text>
<rect x="179.35" y="531.00" width="2.60" height="12.60" fill="#271238"/>
<line x1="180.65" y1="543.60" x2="180.65" y2="546.60" stroke="#111" stroke-width="0.85"/>
<text transform="translate(182.50 549.90) rotate(-90) scale(0.955 1)" font-size="5.20" text-anchor="end" fill="#0a0a0a" stroke="#0a0a0a" stroke-width="0.17">MTOR</text>
<rect x="183.90" y="531.00" width="2.60" height="12.60" fill="#271238"/>
<line x1="185.20" y1="543.60" x2="185.20" y2="546.60" stroke="#111" stroke-width="0.85"/>
<text transform="translate(187.05 549.90) rotate(-90) scale(0.955 1)" font-size="5.20" text-anchor="end" fill="#0a0a0a" stroke="#0a0a0a" stroke-width="0.17">BCORL1</text>
<rect x="188.45" y="538.50" width="2.60" height="5.10" fill="#e4ba88"/>
<rect x="188.45" y="532.10" width="2.60" height="6.40" fill="#271238"/>
<line x1="189.75" y1="543.60" x2="189.75" y2="546.60" stroke="#111" stroke-width="0.85"/>
<text transform="translate(191.60 549.90) rotate(-90) scale(0.955 1)" font-size="5.20" text-anchor="end" fill="#0a0a0a" stroke="#0a0a0a" stroke-width="0.17">SGK1</text>
<rect x="193.00" y="531.50" width="2.60" height="12.10" fill="#7c0e2b"/>
<polygon points="194.30,526.45 194.82,527.79 196.25,527.87 195.14,528.77 195.50,530.16 194.30,529.38 193.10,530.16 193.46,528.77 192.35,527.87 193.78,527.79" fill="#a08c55"/>
<line x1="194.30" y1="543.60" x2="194.30" y2="546.60" stroke="#111" stroke-width="0.85"/>
<text transform="translate(196.15 549.90) rotate(-90) scale(0.955 1)" font-size="5.20" text-anchor="end" fill="#0a0a0a" stroke="#0a0a0a" stroke-width="0.17">SUZ12</text>
<rect x="197.55" y="531.80" width="2.60" height="11.80" fill="#271238"/>
<line x1="198.85" y1="543.60" x2="198.85" y2="546.60" stroke="#111" stroke-width="0.85"/>
<text transform="translate(200.70 549.90) rotate(-90) scale(0.955 1)" font-size="5.20" text-anchor="end" fill="#0a0a0a" stroke="#0a0a0a" stroke-width="0.17">IRF8</text>
<rect x="202.10" y="537.00" width="2.60" height="6.60" fill="#7c0e2b"/>
<rect x="202.10" y="531.80" width="2.60" height="5.20" fill="#271238"/>
<polygon points="203.40,526.75 203.92,528.09 205.35,528.17 204.24,529.07 204.60,530.46 203.40,529.68 202.20,530.46 202.56,529.07 201.45,528.17 202.88,528.09" fill="#a08c55"/>
<line x1="203.40" y1="543.60" x2="203.40" y2="546.60" stroke="#111" stroke-width="0.85"/>
<text transform="translate(205.25 549.90) rotate(-90) scale(0.955 1)" font-size="5.20" text-anchor="end" fill="#0a0a0a" stroke="#0a0a0a" stroke-width="0.17">CXCR4</text>
<rect x="206.65" y="531.50" width="2.60" height="12.10" fill="#7c0e2b"/>
<polygon points="207.95,526.45 208.47,527.79 209.90,527.87 208.79,528.77 209.15,530.16 207.95,529.38 206.75,530.16 207.11,528.77 206.00,527.87 207.43,527.79" fill="#28483c"/>
<polygon points="207.95,521.95 208.47,523.29 209.90,523.37 208.79,524.27 209.15,525.66 207.95,524.88 206.75,525.66 207.11,524.27 206.00,523.37 207.43,523.29" fill="#a08c55"/>
<line x1="207.95" y1="543.60" x2="207.95" y2="546.60" stroke="#111" stroke-width="0.85"/>
<text transform="translate(209.80 549.90) rotate(-90) scale(0.955 1)" font-size="5.20" text-anchor="end" fill="#0a0a0a" stroke="#0a0a0a" stroke-width="0.17">EBF1</text>
<rect x="211.20" y="531.50" width="2.60" height="12.10" fill="#7c0e2b"/>
<polygon points="212.50,526.45 213.02,527.79 214.45,527.87 213.34,528.77 213.70,530.16 212.50,529.38 211.30,530.16 211.66,528.77 210.55,527.87 211.98,527.79" fill="#28483c"/>
<polygon points="212.50,521.95 213.02,523.29 214.45,523.37 213.34,524.27 213.70,525.66 212.50,524.88 211.30,525.66 211.66,524.27 210.55,523.37 211.98,523.29" fill="#a08c55"/>
<line x1="212.50" y1="543.60" x2="212.50" y2="546.60" stroke="#111" stroke-width="0.85"/>
<text transform="translate(214.35 549.90) rotate(-90) scale(0.955 1)" font-size="5.20" text-anchor="end" fill="#0a0a0a" stroke="#0a0a0a" stroke-width="0.17">RAPTOR</text>
<rect x="215.75" y="533.60" width="2.60" height="10.00" fill="#7c0e2b"/>
<line x1="217.05" y1="543.60" x2="217.05" y2="546.60" stroke="#111" stroke-width="0.85"/>
<text transform="translate(218.90 549.90) rotate(-90) scale(0.955 1)" font-size="5.20" text-anchor="end" fill="#0a0a0a" stroke="#0a0a0a" stroke-width="0.17">KRAS</text>
<rect x="220.30" y="533.60" width="2.60" height="10.00" fill="#7c0e2b"/>
<line x1="221.60" y1="543.60" x2="221.60" y2="546.60" stroke="#111" stroke-width="0.85"/>
<text transform="translate(223.45 549.90) rotate(-90) scale(0.955 1)" font-size="5.20" text-anchor="end" fill="#0a0a0a" stroke="#0a0a0a" stroke-width="0.17">STAT3</text>
<rect x="224.85" y="534.50" width="2.60" height="9.10" fill="#271238"/>
<line x1="226.15" y1="543.60" x2="226.15" y2="546.60" stroke="#111" stroke-width="0.85"/>
<text transform="translate(228.00 549.90) rotate(-90) scale(0.955 1)" font-size="5.20" text-anchor="end" fill="#0a0a0a" stroke="#0a0a0a" stroke-width="0.17">TYK2</text>
<rect x="229.40" y="538.00" width="2.60" height="5.60" fill="#7c0e2b"/>
<rect x="229.40" y="534.50" width="2.60" height="3.50" fill="#271238"/>
<polygon points="230.70,528.75 231.22,530.09 232.65,530.17 231.54,531.07 231.90,532.46 230.70,531.68 229.50,532.46 229.86,531.07 228.75,530.17 230.18,530.09" fill="#23315f"/>
<line x1="230.70" y1="543.60" x2="230.70" y2="546.60" stroke="#111" stroke-width="0.85"/>
<text transform="translate(232.55 549.90) rotate(-90) scale(0.955 1)" font-size="5.20" text-anchor="end" fill="#0a0a0a" stroke="#0a0a0a" stroke-width="0.17">MYC</text>
<rect x="233.95" y="538.00" width="2.60" height="5.60" fill="#7c0e2b"/>
<rect x="233.95" y="534.50" width="2.60" height="3.50" fill="#271238"/>
<line x1="235.25" y1="543.60" x2="235.25" y2="546.60" stroke="#111" stroke-width="0.85"/>
<text transform="translate(237.10 549.90) rotate(-90) scale(0.955 1)" font-size="5.20" text-anchor="end" fill="#0a0a0a" stroke="#0a0a0a" stroke-width="0.17">PLCG2</text>
<rect x="238.50" y="534.50" width="2.60" height="9.10" fill="#271238"/>
<line x1="239.80" y1="543.60" x2="239.80" y2="546.60" stroke="#111" stroke-width="0.85"/>
<text transform="translate(241.65 549.90) rotate(-90) scale(0.955 1)" font-size="5.20" text-anchor="end" fill="#0a0a0a" stroke="#0a0a0a" stroke-width="0.17">BCL2</text>
<rect x="243.05" y="536.50" width="2.60" height="7.10" fill="#4e807e"/>
<rect x="243.05" y="534.00" width="2.60" height="2.50" fill="#271238"/>
<polygon points="244.35,528.95 244.87,530.29 246.30,530.37 245.19,531.27 245.55,532.66 244.35,531.88 243.15,532.66 243.51,531.27 242.40,530.37 243.83,530.29" fill="#8f8fc2"/>
<line x1="244.35" y1="543.60" x2="244.35" y2="546.60" stroke="#111" stroke-width="0.85"/>
<text transform="translate(246.20 549.90) rotate(-90) scale(0.955 1)" font-size="5.20" text-anchor="end" fill="#0a0a0a" stroke="#0a0a0a" stroke-width="0.17">PHF19</text>
<rect x="247.60" y="534.50" width="2.60" height="9.10" fill="#271238"/>
<polygon points="248.90,529.25 249.42,530.59 250.85,530.67 249.74,531.57 250.10,532.96 248.90,532.18 247.70,532.96 248.06,531.57 246.95,530.67 248.38,530.59" fill="#8f8fc2"/>
<line x1="248.90" y1="543.60" x2="248.90" y2="546.60" stroke="#111" stroke-width="0.85"/>
<text transform="translate(250.75 549.90) rotate(-90) scale(0.955 1)" font-size="5.20" text-anchor="end" fill="#0a0a0a" stroke="#0a0a0a" stroke-width="0.17">MDM2</text>
<rect x="252.15" y="538.00" width="2.60" height="5.60" fill="#7c0e2b"/>
<rect x="252.15" y="535.60" width="2.60" height="2.40" fill="#271238"/>
<polygon points="253.45,530.25 253.97,531.59 255.40,531.67 254.29,532.57 254.65,533.96 253.45,533.18 252.25,533.96 252.61,532.57 251.50,531.67 252.93,531.59" fill="#28483c"/>
<polygon points="253.45,525.65 253.97,526.99 255.40,527.07 254.29,527.97 254.65,529.36 253.45,528.58 252.25,529.36 252.61,527.97 251.50,527.07 252.93,526.99" fill="#a08c55"/>
<line x1="253.45" y1="543.60" x2="253.45" y2="546.60" stroke="#111" stroke-width="0.85"/>
<text transform="translate(255.30 549.90) rotate(-90) scale(0.955 1)" font-size="5.20" text-anchor="end" fill="#0a0a0a" stroke="#0a0a0a" stroke-width="0.17">PRKDC</text>
<line x1="29.10" y1="426.50" x2="29.10" y2="543.60" stroke="#111" stroke-width="0.9"/>
<line x1="26.10" y1="543.60" x2="29.10" y2="543.60" stroke="#111" stroke-width="0.9"/>
<text x="23.20" y="545.50" font-size="5.4" text-anchor="end" fill="#111" stroke="#111" stroke-width="0.2">0</text>
<line x1="26.10" y1="524.60" x2="29.10" y2="524.60" stroke="#111" stroke-width="0.9"/>
<text x="23.20" y="526.50" font-size="5.4" text-anchor="end" fill="#111" stroke="#111" stroke-width="0.2">5</text>
<line x1="26.10" y1="505.60" x2="29.10" y2="505.60" stroke="#111" stroke-width="0.9"/>
<text x="23.20" y="507.50" font-size="5.4" text-anchor="end" fill="#111" stroke="#111" stroke-width="0.2">10</text>
<line x1="26.10" y1="486.60" x2="29.10" y2="486.60" stroke="#111" stroke-width="0.9"/>
<text x="23.20" y="488.50" font-size="5.4" text-anchor="end" fill="#111" stroke="#111" stroke-width="0.2">15</text>
<line x1="26.10" y1="467.60" x2="29.10" y2="467.60" stroke="#111" stroke-width="0.9"/>
<text x="23.20" y="469.50" font-size="5.4" text-anchor="end" fill="#111" stroke="#111" stroke-width="0.2">20</text>
<line x1="26.10" y1="448.60" x2="29.10" y2="448.60" stroke="#111" stroke-width="0.9"/>
<text x="23.20" y="450.50" font-size="5.4" text-anchor="end" fill="#111" stroke="#111" stroke-width="0.2">25</text>
<line x1="26.10" y1="429.60" x2="29.10" y2="429.60" stroke="#111" stroke-width="0.9"/>
<text x="23.20" y="431.50" font-size="5.4" text-anchor="end" fill="#111" stroke="#111" stroke-width="0.2">30</text>
<line x1="26.10" y1="543.60" x2="256.30" y2="543.60" stroke="#111" stroke-width="0.9"/>
<rect x="191.50" y="433.10" width="4.7" height="4.2" fill="#a30d38"/>
<text x="199.20" y="437.00" font-size="5.3" fill="#161616" stroke="#161616" stroke-width="0.06">Substitution/Indel</text>
<rect x="191.50" y="438.40" width="4.7" height="4.2" fill="#3a7472"/>
<text x="199.20" y="442.30" font-size="5.3" fill="#161616" stroke="#161616" stroke-width="0.06">Amplification</text>
<rect x="191.50" y="443.70" width="4.7" height="4.2" fill="#eeab7c"/>
<text x="199.20" y="447.60" font-size="5.3" fill="#161616" stroke="#161616" stroke-width="0.06">Homozygous deletion</text>
<rect x="191.50" y="449.00" width="4.7" height="4.2" fill="#bcc48a"/>
<text x="199.20" y="452.90" font-size="5.3" fill="#161616" stroke="#161616" stroke-width="0.06">Rearrangement</text>
<rect x="191.50" y="454.30" width="4.7" height="4.2" fill="#3a1a4c"/>
<text x="199.20" y="458.20" font-size="5.3" fill="#161616" stroke="#161616" stroke-width="0.06">Truncation</text>
<polygon points="301.10,466.35 301.95,468.63 304.38,468.73 302.48,470.25 303.13,472.59 301.10,471.25 299.07,472.59 299.72,470.25 297.82,468.73 300.25,468.63" fill="#2f5550"/>
<text x="307.2" y="471.20" font-size="5.45" fill="#111" stroke="#111" stroke-width="0.12">Therapy</text>
<polygon points="301.10,475.42 301.95,477.70 304.38,477.80 302.48,479.32 303.13,481.66 301.10,480.32 299.07,481.66 299.72,479.32 297.82,477.80 300.25,477.70" fill="#b59a52"/>
<text x="307.2" y="480.27" font-size="5.45" fill="#111" stroke="#111" stroke-width="0.12">Clinical trial</text>
<polygon points="301.10,484.49 301.95,486.77 304.38,486.87 302.48,488.39 303.13,490.73 301.10,489.39 299.07,490.73 299.72,488.39 297.82,486.87 300.25,486.77" fill="#26366c"/>
<text x="307.2" y="489.34" font-size="5.45" fill="#111" stroke="#111" stroke-width="0.12">Diagnostic</text>
<polygon points="301.10,493.56 301.95,495.84 304.38,495.94 302.48,497.46 303.13,499.80 301.10,498.46 299.07,499.80 299.72,497.46 297.82,495.94 300.25,495.84" fill="#9696c8"/>
<text x="307.2" y="498.41" font-size="5.45" fill="#111" stroke="#111" stroke-width="0.12">Prognostic</text>
</g>
<g fill="#1c1c1c" shape-rendering="crispEdges"><rect x="0" y="0" width="520" height="1"/><rect x="0" y="579" width="520" height="1"/><rect x="0" y="0" width="1" height="580"/><rect x="519" y="0" width="1" height="580"/></g>
</svg>
</div>
</body></html>
